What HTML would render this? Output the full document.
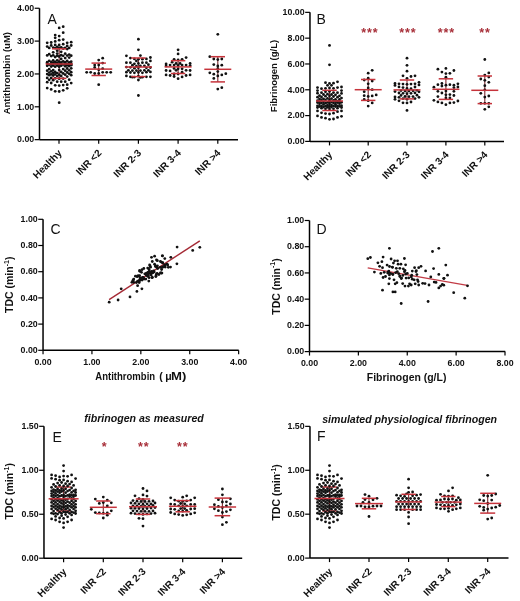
<!DOCTYPE html>
<html><head><meta charset="utf-8"><style>
html,body{margin:0;padding:0;background:#fff;}
svg{display:block;filter:blur(0.3px);}
text{font-family:'Liberation Sans', sans-serif;fill:#111;}
.tl{font-size:9.8px;font-weight:bold;}
.cl{font-size:10px;font-weight:bold;}
.al{font-size:9.5px;font-weight:bold;}
.al2{font-size:10.5px;font-weight:bold;}
.al3{font-size:10.5px;font-weight:bold;}
.pl{font-size:14px;}
.tt{font-size:10.6px;font-weight:bold;font-style:italic;}
.st{font-size:12.5px;font-weight:bold;fill:#a8303a;letter-spacing:0.9px;}
</style></head><body>
<svg width="520" height="601" viewBox="0 0 520 601">
<rect width="520" height="601" fill="#fff"/>
<line x1="39.5" y1="8.25" x2="39.5" y2="139.65" stroke="#000" stroke-width="1.5"/>
<line x1="34.7" y1="139.65" x2="39.5" y2="139.65" stroke="#000" stroke-width="1.2"/>
<text x="17.04" y="142.40" class="tl" textLength="17.16" lengthAdjust="spacingAndGlyphs">0.00</text>
<line x1="34.7" y1="106.80000000000001" x2="39.5" y2="106.80000000000001" stroke="#000" stroke-width="1.2"/>
<text x="17.04" y="109.55" class="tl" textLength="17.16" lengthAdjust="spacingAndGlyphs">1.00</text>
<line x1="34.7" y1="73.95" x2="39.5" y2="73.95" stroke="#000" stroke-width="1.2"/>
<text x="17.04" y="76.70" class="tl" textLength="17.16" lengthAdjust="spacingAndGlyphs">2.00</text>
<line x1="34.7" y1="41.099999999999994" x2="39.5" y2="41.099999999999994" stroke="#000" stroke-width="1.2"/>
<text x="17.04" y="43.85" class="tl" textLength="17.16" lengthAdjust="spacingAndGlyphs">3.00</text>
<line x1="34.7" y1="8.25" x2="39.5" y2="8.25" stroke="#000" stroke-width="1.2"/>
<text x="17.04" y="11.00" class="tl" textLength="17.16" lengthAdjust="spacingAndGlyphs">4.00</text>
<line x1="39.5" y1="139.65" x2="238" y2="139.65" stroke="#000" stroke-width="1.5"/>
<line x1="59" y1="139.65" x2="59" y2="143.65" stroke="#000" stroke-width="1.2"/>
<text x="62.50" y="153.65" text-anchor="end" class="cl" transform="rotate(-45 62.50 153.65)">Healthy</text>
<line x1="98.7" y1="139.65" x2="98.7" y2="143.65" stroke="#000" stroke-width="1.2"/>
<text x="102.20" y="153.65" text-anchor="end" class="cl" transform="rotate(-45 102.20 153.65)">INR &lt;2</text>
<line x1="138.4" y1="139.65" x2="138.4" y2="143.65" stroke="#000" stroke-width="1.2"/>
<text x="141.90" y="153.65" text-anchor="end" class="cl" transform="rotate(-45 141.90 153.65)">INR 2-3</text>
<line x1="178.1" y1="139.65" x2="178.1" y2="143.65" stroke="#000" stroke-width="1.2"/>
<text x="181.60" y="153.65" text-anchor="end" class="cl" transform="rotate(-45 181.60 153.65)">INR 3-4</text>
<line x1="217.8" y1="139.65" x2="217.8" y2="143.65" stroke="#000" stroke-width="1.2"/>
<text x="221.30" y="153.65" text-anchor="end" class="cl" transform="rotate(-45 221.30 153.65)">INR &gt;4</text>
<text x="10.5" y="73.2" text-anchor="middle" class="al" transform="rotate(-90 10.5 73.2)">Antithrombin (uM)</text>
<text x="47.5" y="24" class="pl">A</text>
<line x1="309.97" y1="12.35" x2="309.97" y2="141.4" stroke="#000" stroke-width="1.5"/>
<line x1="305.17" y1="141.4" x2="309.97" y2="141.4" stroke="#000" stroke-width="1.2"/>
<text x="287.51" y="144.15" class="tl" textLength="17.16" lengthAdjust="spacingAndGlyphs">0.00</text>
<line x1="305.17" y1="115.59" x2="309.97" y2="115.59" stroke="#000" stroke-width="1.2"/>
<text x="287.51" y="118.34" class="tl" textLength="17.16" lengthAdjust="spacingAndGlyphs">2.00</text>
<line x1="305.17" y1="89.78" x2="309.97" y2="89.78" stroke="#000" stroke-width="1.2"/>
<text x="287.51" y="92.53" class="tl" textLength="17.16" lengthAdjust="spacingAndGlyphs">4.00</text>
<line x1="305.17" y1="63.97" x2="309.97" y2="63.97" stroke="#000" stroke-width="1.2"/>
<text x="287.51" y="66.72" class="tl" textLength="17.16" lengthAdjust="spacingAndGlyphs">6.00</text>
<line x1="305.17" y1="38.16" x2="309.97" y2="38.16" stroke="#000" stroke-width="1.2"/>
<text x="287.51" y="40.91" class="tl" textLength="17.16" lengthAdjust="spacingAndGlyphs">8.00</text>
<line x1="305.17" y1="12.349999999999994" x2="309.97" y2="12.349999999999994" stroke="#000" stroke-width="1.2"/>
<text x="282.60" y="15.10" class="tl" textLength="22.07" lengthAdjust="spacingAndGlyphs">10.00</text>
<line x1="309.97" y1="141.4" x2="504" y2="141.4" stroke="#000" stroke-width="1.5"/>
<line x1="329.5" y1="141.4" x2="329.5" y2="145.4" stroke="#000" stroke-width="1.2"/>
<text x="333.00" y="155.40" text-anchor="end" class="cl" transform="rotate(-45 333.00 155.40)">Healthy</text>
<line x1="368.2" y1="141.4" x2="368.2" y2="145.4" stroke="#000" stroke-width="1.2"/>
<text x="371.70" y="155.40" text-anchor="end" class="cl" transform="rotate(-45 371.70 155.40)">INR &lt;2</text>
<line x1="407.0" y1="141.4" x2="407.0" y2="145.4" stroke="#000" stroke-width="1.2"/>
<text x="410.50" y="155.40" text-anchor="end" class="cl" transform="rotate(-45 410.50 155.40)">INR 2-3</text>
<line x1="445.9" y1="141.4" x2="445.9" y2="145.4" stroke="#000" stroke-width="1.2"/>
<text x="449.40" y="155.40" text-anchor="end" class="cl" transform="rotate(-45 449.40 155.40)">INR 3-4</text>
<line x1="484.8" y1="141.4" x2="484.8" y2="145.4" stroke="#000" stroke-width="1.2"/>
<text x="488.30" y="155.40" text-anchor="end" class="cl" transform="rotate(-45 488.30 155.40)">INR &gt;4</text>
<text x="276.5" y="76" text-anchor="middle" class="al" transform="rotate(-90 276.5 76)">Fibrinogen (g/L)</text>
<text x="316.5" y="24" class="pl">B</text>
<line x1="43.04" y1="219.3" x2="43.04" y2="350.3" stroke="#000" stroke-width="1.5"/>
<line x1="38.24" y1="350.3" x2="43.04" y2="350.3" stroke="#000" stroke-width="1.2"/>
<text x="20.58" y="353.05" class="tl" textLength="17.16" lengthAdjust="spacingAndGlyphs">0.00</text>
<line x1="38.24" y1="324.1" x2="43.04" y2="324.1" stroke="#000" stroke-width="1.2"/>
<text x="20.58" y="326.85" class="tl" textLength="17.16" lengthAdjust="spacingAndGlyphs">0.20</text>
<line x1="38.24" y1="297.90000000000003" x2="43.04" y2="297.90000000000003" stroke="#000" stroke-width="1.2"/>
<text x="20.58" y="300.65" class="tl" textLength="17.16" lengthAdjust="spacingAndGlyphs">0.40</text>
<line x1="38.24" y1="271.70000000000005" x2="43.04" y2="271.70000000000005" stroke="#000" stroke-width="1.2"/>
<text x="20.58" y="274.45" class="tl" textLength="17.16" lengthAdjust="spacingAndGlyphs">0.60</text>
<line x1="38.24" y1="245.5" x2="43.04" y2="245.5" stroke="#000" stroke-width="1.2"/>
<text x="20.58" y="248.25" class="tl" textLength="17.16" lengthAdjust="spacingAndGlyphs">0.80</text>
<line x1="38.24" y1="219.3" x2="43.04" y2="219.3" stroke="#000" stroke-width="1.2"/>
<text x="20.58" y="222.05" class="tl" textLength="17.16" lengthAdjust="spacingAndGlyphs">1.00</text>
<line x1="43.04" y1="350.3" x2="238.7" y2="350.3" stroke="#000" stroke-width="1.5"/>
<line x1="43.04" y1="350.3" x2="43.04" y2="354.3" stroke="#000" stroke-width="1.2"/>
<text x="34.46" y="364.50" class="tl" textLength="17.16" lengthAdjust="spacingAndGlyphs">0.00</text>
<line x1="91.94" y1="350.3" x2="91.94" y2="354.3" stroke="#000" stroke-width="1.2"/>
<text x="83.36" y="364.50" class="tl" textLength="17.16" lengthAdjust="spacingAndGlyphs">1.00</text>
<line x1="140.84" y1="350.3" x2="140.84" y2="354.3" stroke="#000" stroke-width="1.2"/>
<text x="132.26" y="364.50" class="tl" textLength="17.16" lengthAdjust="spacingAndGlyphs">2.00</text>
<line x1="189.73999999999998" y1="350.3" x2="189.73999999999998" y2="354.3" stroke="#000" stroke-width="1.2"/>
<text x="181.16" y="364.50" class="tl" textLength="17.16" lengthAdjust="spacingAndGlyphs">3.00</text>
<line x1="238.64" y1="350.3" x2="238.64" y2="354.3" stroke="#000" stroke-width="1.2"/>
<text x="230.06" y="364.50" class="tl" textLength="17.16" lengthAdjust="spacingAndGlyphs">4.00</text>
<text x="13.3" y="284.8" text-anchor="middle" class="al3" transform="rotate(-90 13.3 284.8)">TDC (min<tspan dy="-4.3" font-size="7">-1</tspan><tspan dy="4.3">)</tspan></text>
<text x="95.3" y="380.2" class="al2" textLength="59.8" lengthAdjust="spacingAndGlyphs">Antithrombin</text>
<text x="159.2" y="380.2" class="al2">(</text>
<text x="165.2" y="380.2" class="al2" font-weight="normal">&#956;</text>
<text x="171.0" y="380.2" class="al2" textLength="15.3" lengthAdjust="spacingAndGlyphs">M)</text>
<text x="50.5" y="234" class="pl">C</text>
<line x1="309.5" y1="220.5" x2="309.5" y2="351.6" stroke="#000" stroke-width="1.5"/>
<line x1="304.7" y1="351.6" x2="309.5" y2="351.6" stroke="#000" stroke-width="1.2"/>
<text x="287.04" y="354.35" class="tl" textLength="17.16" lengthAdjust="spacingAndGlyphs">0.00</text>
<line x1="304.7" y1="325.38" x2="309.5" y2="325.38" stroke="#000" stroke-width="1.2"/>
<text x="287.04" y="328.13" class="tl" textLength="17.16" lengthAdjust="spacingAndGlyphs">0.20</text>
<line x1="304.7" y1="299.16" x2="309.5" y2="299.16" stroke="#000" stroke-width="1.2"/>
<text x="287.04" y="301.91" class="tl" textLength="17.16" lengthAdjust="spacingAndGlyphs">0.40</text>
<line x1="304.7" y1="272.94" x2="309.5" y2="272.94" stroke="#000" stroke-width="1.2"/>
<text x="287.04" y="275.69" class="tl" textLength="17.16" lengthAdjust="spacingAndGlyphs">0.60</text>
<line x1="304.7" y1="246.72" x2="309.5" y2="246.72" stroke="#000" stroke-width="1.2"/>
<text x="287.04" y="249.47" class="tl" textLength="17.16" lengthAdjust="spacingAndGlyphs">0.80</text>
<line x1="304.7" y1="220.5" x2="309.5" y2="220.5" stroke="#000" stroke-width="1.2"/>
<text x="287.04" y="223.25" class="tl" textLength="17.16" lengthAdjust="spacingAndGlyphs">1.00</text>
<line x1="309.5" y1="351.6" x2="505.2" y2="351.6" stroke="#000" stroke-width="1.5"/>
<line x1="309.5" y1="351.6" x2="309.5" y2="355.6" stroke="#000" stroke-width="1.2"/>
<text x="300.92" y="365.80" class="tl" textLength="17.16" lengthAdjust="spacingAndGlyphs">0.00</text>
<line x1="358.375" y1="351.6" x2="358.375" y2="355.6" stroke="#000" stroke-width="1.2"/>
<text x="349.79" y="365.80" class="tl" textLength="17.16" lengthAdjust="spacingAndGlyphs">2.00</text>
<line x1="407.25" y1="351.6" x2="407.25" y2="355.6" stroke="#000" stroke-width="1.2"/>
<text x="398.67" y="365.80" class="tl" textLength="17.16" lengthAdjust="spacingAndGlyphs">4.00</text>
<line x1="456.125" y1="351.6" x2="456.125" y2="355.6" stroke="#000" stroke-width="1.2"/>
<text x="447.54" y="365.80" class="tl" textLength="17.16" lengthAdjust="spacingAndGlyphs">6.00</text>
<line x1="505.0" y1="351.6" x2="505.0" y2="355.6" stroke="#000" stroke-width="1.2"/>
<text x="496.42" y="365.80" class="tl" textLength="17.16" lengthAdjust="spacingAndGlyphs">8.00</text>
<text x="279.7" y="286.5" text-anchor="middle" class="al3" transform="rotate(-90 279.7 286.5)">TDC (min<tspan dy="-4.3" font-size="7">-1</tspan><tspan dy="4.3">)</tspan></text>
<text x="366.8" y="380.5" class="al2" textLength="79.6" lengthAdjust="spacingAndGlyphs">Fibrinogen (g/L)</text>
<text x="316.5" y="234" class="pl">D</text>
<line x1="43.97" y1="426.3" x2="43.97" y2="558.2" stroke="#000" stroke-width="1.5"/>
<line x1="39.17" y1="558.2" x2="43.97" y2="558.2" stroke="#000" stroke-width="1.2"/>
<text x="21.51" y="560.95" class="tl" textLength="17.16" lengthAdjust="spacingAndGlyphs">0.00</text>
<line x1="39.17" y1="514.2333333333333" x2="43.97" y2="514.2333333333333" stroke="#000" stroke-width="1.2"/>
<text x="21.51" y="516.98" class="tl" textLength="17.16" lengthAdjust="spacingAndGlyphs">0.50</text>
<line x1="39.17" y1="470.2666666666667" x2="43.97" y2="470.2666666666667" stroke="#000" stroke-width="1.2"/>
<text x="21.51" y="473.02" class="tl" textLength="17.16" lengthAdjust="spacingAndGlyphs">1.00</text>
<line x1="39.17" y1="426.3" x2="43.97" y2="426.3" stroke="#000" stroke-width="1.2"/>
<text x="21.51" y="429.05" class="tl" textLength="17.16" lengthAdjust="spacingAndGlyphs">1.50</text>
<line x1="43.97" y1="558.2" x2="242.2" y2="558.2" stroke="#000" stroke-width="1.5"/>
<line x1="63.6" y1="558.2" x2="63.6" y2="562.2" stroke="#000" stroke-width="1.2"/>
<text x="67.10" y="572.20" text-anchor="end" class="cl" transform="rotate(-45 67.10 572.20)">Healthy</text>
<line x1="103.3" y1="558.2" x2="103.3" y2="562.2" stroke="#000" stroke-width="1.2"/>
<text x="106.80" y="572.20" text-anchor="end" class="cl" transform="rotate(-45 106.80 572.20)">INR &lt;2</text>
<line x1="143.0" y1="558.2" x2="143.0" y2="562.2" stroke="#000" stroke-width="1.2"/>
<text x="146.50" y="572.20" text-anchor="end" class="cl" transform="rotate(-45 146.50 572.20)">INR 2-3</text>
<line x1="182.7" y1="558.2" x2="182.7" y2="562.2" stroke="#000" stroke-width="1.2"/>
<text x="186.20" y="572.20" text-anchor="end" class="cl" transform="rotate(-45 186.20 572.20)">INR 3-4</text>
<line x1="222.4" y1="558.2" x2="222.4" y2="562.2" stroke="#000" stroke-width="1.2"/>
<text x="225.90" y="572.20" text-anchor="end" class="cl" transform="rotate(-45 225.90 572.20)">INR &gt;4</text>
<text x="13.3" y="491.3" text-anchor="middle" class="al3" transform="rotate(-90 13.3 491.3)">TDC (min<tspan dy="-4.3" font-size="7">-1</tspan><tspan dy="4.3">)</tspan></text>
<text x="52.5" y="442" class="pl">E</text>
<text x="144" y="422.0" text-anchor="middle" class="tt">fibrinogen as measured</text>
<line x1="309.97" y1="426.35" x2="309.97" y2="558.1" stroke="#000" stroke-width="1.5"/>
<line x1="305.17" y1="558.1" x2="309.97" y2="558.1" stroke="#000" stroke-width="1.2"/>
<text x="287.51" y="560.85" class="tl" textLength="17.16" lengthAdjust="spacingAndGlyphs">0.00</text>
<line x1="305.17" y1="514.1833333333334" x2="309.97" y2="514.1833333333334" stroke="#000" stroke-width="1.2"/>
<text x="287.51" y="516.93" class="tl" textLength="17.16" lengthAdjust="spacingAndGlyphs">0.50</text>
<line x1="305.17" y1="470.2666666666667" x2="309.97" y2="470.2666666666667" stroke="#000" stroke-width="1.2"/>
<text x="287.51" y="473.02" class="tl" textLength="17.16" lengthAdjust="spacingAndGlyphs">1.00</text>
<line x1="305.17" y1="426.35" x2="309.97" y2="426.35" stroke="#000" stroke-width="1.2"/>
<text x="287.51" y="429.10" class="tl" textLength="17.16" lengthAdjust="spacingAndGlyphs">1.50</text>
<line x1="309.97" y1="558.1" x2="508.5" y2="558.1" stroke="#000" stroke-width="1.5"/>
<line x1="329.5" y1="558.1" x2="329.5" y2="562.1" stroke="#000" stroke-width="1.2"/>
<text x="333.00" y="572.10" text-anchor="end" class="cl" transform="rotate(-45 333.00 572.10)">Healthy</text>
<line x1="369.0" y1="558.1" x2="369.0" y2="562.1" stroke="#000" stroke-width="1.2"/>
<text x="372.50" y="572.10" text-anchor="end" class="cl" transform="rotate(-45 372.50 572.10)">INR &lt;2</text>
<line x1="408.6" y1="558.1" x2="408.6" y2="562.1" stroke="#000" stroke-width="1.2"/>
<text x="412.10" y="572.10" text-anchor="end" class="cl" transform="rotate(-45 412.10 572.10)">INR 2-3</text>
<line x1="448.3" y1="558.1" x2="448.3" y2="562.1" stroke="#000" stroke-width="1.2"/>
<text x="451.80" y="572.10" text-anchor="end" class="cl" transform="rotate(-45 451.80 572.10)">INR 3-4</text>
<line x1="487.7" y1="558.1" x2="487.7" y2="562.1" stroke="#000" stroke-width="1.2"/>
<text x="491.20" y="572.10" text-anchor="end" class="cl" transform="rotate(-45 491.20 572.10)">INR &gt;4</text>
<text x="280.4" y="492.4" text-anchor="middle" class="al3" transform="rotate(-90 280.4 492.4)">TDC (min<tspan dy="-4.3" font-size="7">-1</tspan><tspan dy="4.3">)</tspan></text>
<text x="317" y="441" class="pl">F</text>
<text x="409.6" y="423.3" text-anchor="middle" class="tt">simulated physiological fibrinogen</text>
<line x1="59.2" y1="48.8" x2="59.2" y2="78.4" stroke="#7a2a30" stroke-width="1.1"/>
<g fill="#111">
<circle cx="59.2" cy="27.9" r="1.4"/>
<circle cx="63.2" cy="26.7" r="1.4"/>
<circle cx="63.2" cy="32.7" r="1.4"/>
<circle cx="55.2" cy="35.1" r="1.4"/>
<circle cx="55.2" cy="37.8" r="1.4"/>
<circle cx="59.2" cy="36.1" r="1.4"/>
<circle cx="63.2" cy="39.6" r="1.4"/>
<circle cx="55.2" cy="41.4" r="1.4"/>
<circle cx="59.2" cy="40.2" r="1.4"/>
<circle cx="47.2" cy="42.8" r="1.4"/>
<circle cx="51.2" cy="42.5" r="1.4"/>
<circle cx="51.2" cy="45.5" r="1.4"/>
<circle cx="55.2" cy="44.9" r="1.4"/>
<circle cx="59.2" cy="45.0" r="1.4"/>
<circle cx="63.2" cy="44.2" r="1.4"/>
<circle cx="67.2" cy="42.8" r="1.4"/>
<circle cx="67.2" cy="45.9" r="1.4"/>
<circle cx="71.2" cy="42.2" r="1.4"/>
<circle cx="71.2" cy="45.5" r="1.4"/>
<circle cx="47.2" cy="82.2" r="1.4"/>
<circle cx="51.2" cy="83.0" r="1.4"/>
<circle cx="57.2" cy="81.7" r="1.4"/>
<circle cx="61.2" cy="81.7" r="1.4"/>
<circle cx="65.2" cy="81.7" r="1.4"/>
<circle cx="71.2" cy="83.1" r="1.4"/>
<circle cx="55.2" cy="85.3" r="1.4"/>
<circle cx="59.2" cy="85.6" r="1.4"/>
<circle cx="63.2" cy="85.1" r="1.4"/>
<circle cx="67.2" cy="84.7" r="1.4"/>
<circle cx="47.2" cy="88.1" r="1.4"/>
<circle cx="51.2" cy="89.4" r="1.4"/>
<circle cx="67.2" cy="88.3" r="1.4"/>
<circle cx="55.2" cy="91.3" r="1.4"/>
<circle cx="59.2" cy="91.5" r="1.4"/>
<circle cx="63.2" cy="90.3" r="1.4"/>
<circle cx="59.2" cy="102.7" r="1.4"/>
<circle cx="47.2" cy="46.6" r="1.4"/>
<circle cx="57.2" cy="46.8" r="1.4"/>
<circle cx="61.2" cy="47.5" r="1.4"/>
<circle cx="53.2" cy="47.7" r="1.4"/>
<circle cx="53.2" cy="80.2" r="1.4"/>
<circle cx="65.2" cy="47.9" r="1.4"/>
<circle cx="69.2" cy="47.9" r="1.4"/>
<circle cx="49.2" cy="47.9" r="1.4"/>
<circle cx="59.2" cy="48.0" r="1.4"/>
<circle cx="55.2" cy="48.1" r="1.4"/>
<circle cx="49.2" cy="79.8" r="1.4"/>
<circle cx="69.2" cy="79.7" r="1.4"/>
<circle cx="63.2" cy="48.6" r="1.4"/>
<circle cx="67.2" cy="49.1" r="1.4"/>
<circle cx="59.2" cy="78.7" r="1.4"/>
<circle cx="63.2" cy="78.6" r="1.4"/>
<circle cx="55.2" cy="78.3" r="1.4"/>
<circle cx="51.2" cy="78.0" r="1.4"/>
<circle cx="47.2" cy="77.9" r="1.4"/>
<circle cx="57.2" cy="50.7" r="1.4"/>
<circle cx="67.2" cy="76.6" r="1.4"/>
<circle cx="61.2" cy="51.8" r="1.4"/>
<circle cx="57.2" cy="76.1" r="1.4"/>
<circle cx="61.2" cy="76.0" r="1.4"/>
<circle cx="53.2" cy="52.3" r="1.4"/>
<circle cx="53.2" cy="75.5" r="1.4"/>
<circle cx="49.2" cy="75.2" r="1.4"/>
<circle cx="71.2" cy="75.2" r="1.4"/>
<circle cx="65.2" cy="74.7" r="1.4"/>
<circle cx="59.2" cy="74.7" r="1.4"/>
<circle cx="55.2" cy="74.4" r="1.4"/>
<circle cx="57.2" cy="53.6" r="1.4"/>
<circle cx="51.2" cy="74.3" r="1.4"/>
<circle cx="65.2" cy="53.7" r="1.4"/>
<circle cx="47.2" cy="74.1" r="1.4"/>
<circle cx="49.2" cy="54.2" r="1.4"/>
<circle cx="69.2" cy="73.8" r="1.4"/>
<circle cx="63.2" cy="73.5" r="1.4"/>
<circle cx="69.2" cy="54.6" r="1.4"/>
<circle cx="57.2" cy="73.1" r="1.4"/>
<circle cx="53.2" cy="72.8" r="1.4"/>
<circle cx="61.2" cy="55.2" r="1.4"/>
<circle cx="53.2" cy="55.3" r="1.4"/>
<circle cx="49.2" cy="72.6" r="1.4"/>
<circle cx="47.2" cy="55.4" r="1.4"/>
<circle cx="67.2" cy="72.5" r="1.4"/>
<circle cx="67.2" cy="55.6" r="1.4"/>
<circle cx="71.2" cy="55.7" r="1.4"/>
<circle cx="57.2" cy="55.8" r="1.4"/>
<circle cx="63.2" cy="55.8" r="1.4"/>
<circle cx="71.2" cy="72.2" r="1.4"/>
<circle cx="61.2" cy="72.0" r="1.4"/>
<circle cx="55.2" cy="71.9" r="1.4"/>
<circle cx="51.2" cy="56.1" r="1.4"/>
<circle cx="59.2" cy="56.5" r="1.4"/>
<circle cx="51.2" cy="71.3" r="1.4"/>
<circle cx="55.2" cy="57.0" r="1.4"/>
<circle cx="47.2" cy="70.7" r="1.4"/>
<circle cx="65.2" cy="70.7" r="1.4"/>
<circle cx="69.2" cy="57.6" r="1.4"/>
<circle cx="69.2" cy="70.3" r="1.4"/>
<circle cx="59.2" cy="70.1" r="1.4"/>
<circle cx="53.2" cy="70.1" r="1.4"/>
<circle cx="65.2" cy="58.1" r="1.4"/>
<circle cx="49.2" cy="69.2" r="1.4"/>
<circle cx="63.2" cy="69.1" r="1.4"/>
<circle cx="61.2" cy="59.0" r="1.4"/>
<circle cx="67.2" cy="68.5" r="1.4"/>
<circle cx="71.2" cy="68.3" r="1.4"/>
<circle cx="57.2" cy="60.3" r="1.4"/>
<circle cx="53.2" cy="60.5" r="1.4"/>
<circle cx="67.2" cy="60.9" r="1.4"/>
<circle cx="49.2" cy="60.9" r="1.4"/>
<circle cx="59.2" cy="66.8" r="1.4"/>
<circle cx="55.2" cy="66.7" r="1.4"/>
<circle cx="51.2" cy="66.6" r="1.4"/>
<circle cx="63.2" cy="61.5" r="1.4"/>
<circle cx="65.2" cy="66.3" r="1.4"/>
<circle cx="71.2" cy="61.7" r="1.4"/>
<circle cx="59.2" cy="61.7" r="1.4"/>
<circle cx="55.2" cy="61.8" r="1.4"/>
<circle cx="69.2" cy="66.1" r="1.4"/>
<circle cx="51.2" cy="62.0" r="1.4"/>
<circle cx="47.2" cy="65.8" r="1.4"/>
<circle cx="47.2" cy="62.2" r="1.4"/>
<circle cx="65.2" cy="62.2" r="1.4"/>
<circle cx="61.2" cy="65.7" r="1.4"/>
<circle cx="69.2" cy="62.4" r="1.4"/>
<circle cx="57.2" cy="65.5" r="1.4"/>
<circle cx="61.2" cy="62.5" r="1.4"/>
<circle cx="53.2" cy="65.5" r="1.4"/>
<circle cx="67.2" cy="65.3" r="1.4"/>
<circle cx="71.2" cy="65.2" r="1.4"/>
<circle cx="57.2" cy="62.8" r="1.4"/>
<circle cx="53.2" cy="62.8" r="1.4"/>
<circle cx="49.2" cy="64.7" r="1.4"/>
<circle cx="63.2" cy="64.6" r="1.4"/>
<circle cx="59.2" cy="64.4" r="1.4"/>
<circle cx="55.2" cy="63.6" r="1.4"/>
<circle cx="51.2" cy="64.3" r="1.4"/>
<circle cx="47.2" cy="63.7" r="1.4"/>
<circle cx="65.2" cy="64.2" r="1.4"/>
<circle cx="69.2" cy="64.2" r="1.4"/>
<circle cx="61.2" cy="64.1" r="1.4"/>
<circle cx="67.2" cy="63.9" r="1.4"/>
<circle cx="71.2" cy="63.9" r="1.4"/>
</g>
<line x1="98.7" y1="63.1" x2="98.7" y2="75.5" stroke="#7a2a30" stroke-width="1.1"/>
<g fill="#111">
<circle cx="102.7" cy="58.2" r="1.4"/>
<circle cx="98.7" cy="60.1" r="1.4"/>
<circle cx="102.7" cy="63.1" r="1.4"/>
<circle cx="94.7" cy="65.1" r="1.4"/>
<circle cx="98.7" cy="65.1" r="1.4"/>
<circle cx="94.7" cy="67.4" r="1.4"/>
<circle cx="102.7" cy="68.6" r="1.4"/>
<circle cx="98.7" cy="69.8" r="1.4"/>
<circle cx="86.7" cy="72.3" r="1.4"/>
<circle cx="90.7" cy="72.3" r="1.4"/>
<circle cx="94.7" cy="73.5" r="1.4"/>
<circle cx="98.7" cy="73.5" r="1.4"/>
<circle cx="102.7" cy="72.3" r="1.4"/>
<circle cx="106.7" cy="72.3" r="1.4"/>
<circle cx="110.7" cy="72.3" r="1.4"/>
<circle cx="98.7" cy="84.7" r="1.4"/>
</g>
<line x1="138.4" y1="58" x2="138.4" y2="76.6" stroke="#7a2a30" stroke-width="1.1"/>
<g fill="#111">
<circle cx="138.4" cy="39.2" r="1.4"/>
<circle cx="138.4" cy="49.8" r="1.4"/>
<circle cx="126.4" cy="55.8" r="1.4"/>
<circle cx="140.4" cy="55.6" r="1.4"/>
<circle cx="150.4" cy="57.5" r="1.4"/>
<circle cx="130.4" cy="58.1" r="1.4"/>
<circle cx="134.4" cy="58.9" r="1.4"/>
<circle cx="138.4" cy="59.2" r="1.4"/>
<circle cx="142.4" cy="59.2" r="1.4"/>
<circle cx="146.4" cy="58.9" r="1.4"/>
<circle cx="150.4" cy="60.9" r="1.4"/>
<circle cx="136.4" cy="60.9" r="1.4"/>
<circle cx="126.4" cy="62.7" r="1.4"/>
<circle cx="130.4" cy="62.7" r="1.4"/>
<circle cx="134.4" cy="63.8" r="1.4"/>
<circle cx="132.4" cy="65.2" r="1.4"/>
<circle cx="142.4" cy="62.7" r="1.4"/>
<circle cx="146.4" cy="62.7" r="1.4"/>
<circle cx="148.4" cy="64.7" r="1.4"/>
<circle cx="138.4" cy="63.4" r="1.4"/>
<circle cx="126.4" cy="67.1" r="1.4"/>
<circle cx="130.4" cy="67.3" r="1.4"/>
<circle cx="134.4" cy="68.2" r="1.4"/>
<circle cx="136.4" cy="66.2" r="1.4"/>
<circle cx="138.4" cy="67.8" r="1.4"/>
<circle cx="140.4" cy="65.9" r="1.4"/>
<circle cx="144.4" cy="65.8" r="1.4"/>
<circle cx="146.4" cy="67.8" r="1.4"/>
<circle cx="150.4" cy="67.5" r="1.4"/>
<circle cx="126.4" cy="72.2" r="1.4"/>
<circle cx="128.4" cy="70.3" r="1.4"/>
<circle cx="130.4" cy="72.5" r="1.4"/>
<circle cx="132.4" cy="70.6" r="1.4"/>
<circle cx="134.4" cy="72.8" r="1.4"/>
<circle cx="136.4" cy="70.6" r="1.4"/>
<circle cx="138.4" cy="72.4" r="1.4"/>
<circle cx="140.4" cy="70.6" r="1.4"/>
<circle cx="142.4" cy="72.8" r="1.4"/>
<circle cx="144.4" cy="70.3" r="1.4"/>
<circle cx="146.4" cy="72.2" r="1.4"/>
<circle cx="148.4" cy="70.3" r="1.4"/>
<circle cx="150.4" cy="71.9" r="1.4"/>
<circle cx="126.4" cy="75.9" r="1.4"/>
<circle cx="130.4" cy="76.8" r="1.4"/>
<circle cx="132.4" cy="77.2" r="1.4"/>
<circle cx="134.4" cy="77.1" r="1.4"/>
<circle cx="138.4" cy="76.2" r="1.4"/>
<circle cx="140.4" cy="77.4" r="1.4"/>
<circle cx="142.4" cy="77.2" r="1.4"/>
<circle cx="146.4" cy="76.8" r="1.4"/>
<circle cx="150.4" cy="76.8" r="1.4"/>
<circle cx="138.4" cy="80.0" r="1.4"/>
<circle cx="138.4" cy="95.5" r="1.4"/>
</g>
<line x1="178.1" y1="60.7" x2="178.1" y2="73.5" stroke="#7a2a30" stroke-width="1.1"/>
<g fill="#111">
<circle cx="178.1" cy="49.8" r="1.4"/>
<circle cx="178.1" cy="53.9" r="1.4"/>
<circle cx="186.1" cy="57.6" r="1.4"/>
<circle cx="174.1" cy="59.3" r="1.4"/>
<circle cx="178.1" cy="59.9" r="1.4"/>
<circle cx="182.1" cy="59.3" r="1.4"/>
<circle cx="172.1" cy="62.2" r="1.4"/>
<circle cx="166.1" cy="63.9" r="1.4"/>
<circle cx="166.1" cy="65.9" r="1.4"/>
<circle cx="170.1" cy="65.1" r="1.4"/>
<circle cx="174.1" cy="65.1" r="1.4"/>
<circle cx="176.1" cy="63.5" r="1.4"/>
<circle cx="178.1" cy="65.4" r="1.4"/>
<circle cx="180.1" cy="63.5" r="1.4"/>
<circle cx="182.1" cy="65.1" r="1.4"/>
<circle cx="186.1" cy="65.1" r="1.4"/>
<circle cx="190.1" cy="63.4" r="1.4"/>
<circle cx="190.1" cy="65.6" r="1.4"/>
<circle cx="174.1" cy="68.4" r="1.4"/>
<circle cx="176.1" cy="70.3" r="1.4"/>
<circle cx="178.1" cy="68.8" r="1.4"/>
<circle cx="182.1" cy="68.8" r="1.4"/>
<circle cx="166.1" cy="70.5" r="1.4"/>
<circle cx="170.1" cy="70.9" r="1.4"/>
<circle cx="186.1" cy="70.3" r="1.4"/>
<circle cx="190.1" cy="70.5" r="1.4"/>
<circle cx="182.1" cy="72.2" r="1.4"/>
<circle cx="178.1" cy="74.0" r="1.4"/>
<circle cx="166.1" cy="74.9" r="1.4"/>
<circle cx="170.1" cy="75.5" r="1.4"/>
<circle cx="174.1" cy="74.0" r="1.4"/>
<circle cx="174.1" cy="76.5" r="1.4"/>
<circle cx="186.1" cy="75.5" r="1.4"/>
<circle cx="190.1" cy="74.9" r="1.4"/>
<circle cx="182.1" cy="76.9" r="1.4"/>
<circle cx="178.1" cy="78.7" r="1.4"/>
</g>
<line x1="217.8" y1="56.7" x2="217.8" y2="81.9" stroke="#7a2a30" stroke-width="1.1"/>
<g fill="#111">
<circle cx="217.8" cy="34.3" r="1.4"/>
<circle cx="209.8" cy="56.7" r="1.4"/>
<circle cx="213.8" cy="59.0" r="1.4"/>
<circle cx="217.8" cy="59.6" r="1.4"/>
<circle cx="221.8" cy="59.0" r="1.4"/>
<circle cx="213.8" cy="64.6" r="1.4"/>
<circle cx="217.8" cy="66.0" r="1.4"/>
<circle cx="221.8" cy="65.2" r="1.4"/>
<circle cx="217.8" cy="68.7" r="1.4"/>
<circle cx="209.8" cy="72.8" r="1.4"/>
<circle cx="213.8" cy="74.2" r="1.4"/>
<circle cx="217.8" cy="71.6" r="1.4"/>
<circle cx="217.8" cy="75.9" r="1.4"/>
<circle cx="221.8" cy="74.9" r="1.4"/>
<circle cx="225.8" cy="73.7" r="1.4"/>
<circle cx="213.8" cy="78.4" r="1.4"/>
<circle cx="217.8" cy="89.1" r="1.4"/>
<circle cx="221.8" cy="87.7" r="1.4"/>
</g>
<line x1="329.5" y1="90.3" x2="329.5" y2="110.5" stroke="#7a2a30" stroke-width="1.1"/>
<g fill="#111">
<circle cx="329.5" cy="45.4" r="1.4"/>
<circle cx="329.5" cy="64.8" r="1.4"/>
<circle cx="325.5" cy="82.7" r="1.4"/>
<circle cx="327.5" cy="85.3" r="1.4"/>
<circle cx="329.5" cy="83.4" r="1.4"/>
<circle cx="331.5" cy="85.3" r="1.4"/>
<circle cx="333.5" cy="83.2" r="1.4"/>
<circle cx="337.5" cy="81.8" r="1.4"/>
<circle cx="317.5" cy="87.6" r="1.4"/>
<circle cx="317.5" cy="90.6" r="1.4"/>
<circle cx="321.5" cy="88.7" r="1.4"/>
<circle cx="325.5" cy="88.3" r="1.4"/>
<circle cx="329.5" cy="88.0" r="1.4"/>
<circle cx="333.5" cy="88.3" r="1.4"/>
<circle cx="337.5" cy="87.6" r="1.4"/>
<circle cx="341.5" cy="87.0" r="1.4"/>
<circle cx="341.5" cy="90.6" r="1.4"/>
<circle cx="317.5" cy="110.9" r="1.4"/>
<circle cx="321.5" cy="112.8" r="1.4"/>
<circle cx="325.5" cy="113.6" r="1.4"/>
<circle cx="329.5" cy="114.0" r="1.4"/>
<circle cx="333.5" cy="113.2" r="1.4"/>
<circle cx="337.5" cy="111.7" r="1.4"/>
<circle cx="341.5" cy="110.9" r="1.4"/>
<circle cx="317.5" cy="115.9" r="1.4"/>
<circle cx="321.5" cy="117.4" r="1.4"/>
<circle cx="325.5" cy="118.2" r="1.4"/>
<circle cx="329.5" cy="119.3" r="1.4"/>
<circle cx="333.5" cy="119.0" r="1.4"/>
<circle cx="337.5" cy="117.4" r="1.4"/>
<circle cx="341.5" cy="116.3" r="1.4"/>
<circle cx="329.5" cy="91.4" r="1.4"/>
<circle cx="325.5" cy="91.8" r="1.4"/>
<circle cx="333.5" cy="92.6" r="1.4"/>
<circle cx="321.5" cy="92.7" r="1.4"/>
<circle cx="337.5" cy="92.7" r="1.4"/>
<circle cx="329.5" cy="108.9" r="1.4"/>
<circle cx="325.5" cy="108.8" r="1.4"/>
<circle cx="317.5" cy="93.2" r="1.4"/>
<circle cx="333.5" cy="108.8" r="1.4"/>
<circle cx="341.5" cy="93.4" r="1.4"/>
<circle cx="321.5" cy="108.2" r="1.4"/>
<circle cx="337.5" cy="108.2" r="1.4"/>
<circle cx="327.5" cy="94.2" r="1.4"/>
<circle cx="317.5" cy="107.6" r="1.4"/>
<circle cx="341.5" cy="107.5" r="1.4"/>
<circle cx="331.5" cy="94.5" r="1.4"/>
<circle cx="323.5" cy="94.5" r="1.4"/>
<circle cx="327.5" cy="107.3" r="1.4"/>
<circle cx="335.5" cy="94.8" r="1.4"/>
<circle cx="331.5" cy="107.0" r="1.4"/>
<circle cx="323.5" cy="107.0" r="1.4"/>
<circle cx="335.5" cy="106.5" r="1.4"/>
<circle cx="319.5" cy="106.5" r="1.4"/>
<circle cx="339.5" cy="106.3" r="1.4"/>
<circle cx="319.5" cy="95.7" r="1.4"/>
<circle cx="329.5" cy="106.3" r="1.4"/>
<circle cx="339.5" cy="95.8" r="1.4"/>
<circle cx="325.5" cy="106.2" r="1.4"/>
<circle cx="333.5" cy="106.1" r="1.4"/>
<circle cx="321.5" cy="106.1" r="1.4"/>
<circle cx="329.5" cy="96.1" r="1.4"/>
<circle cx="325.5" cy="96.2" r="1.4"/>
<circle cx="337.5" cy="105.8" r="1.4"/>
<circle cx="317.5" cy="105.8" r="1.4"/>
<circle cx="341.5" cy="105.7" r="1.4"/>
<circle cx="333.5" cy="96.5" r="1.4"/>
<circle cx="327.5" cy="105.2" r="1.4"/>
<circle cx="331.5" cy="105.1" r="1.4"/>
<circle cx="321.5" cy="97.0" r="1.4"/>
<circle cx="317.5" cy="97.2" r="1.4"/>
<circle cx="337.5" cy="97.2" r="1.4"/>
<circle cx="323.5" cy="104.4" r="1.4"/>
<circle cx="335.5" cy="104.2" r="1.4"/>
<circle cx="341.5" cy="98.1" r="1.4"/>
<circle cx="319.5" cy="103.8" r="1.4"/>
<circle cx="339.5" cy="103.7" r="1.4"/>
<circle cx="329.5" cy="103.7" r="1.4"/>
<circle cx="327.5" cy="98.4" r="1.4"/>
<circle cx="331.5" cy="98.6" r="1.4"/>
<circle cx="323.5" cy="98.8" r="1.4"/>
<circle cx="325.5" cy="103.2" r="1.4"/>
<circle cx="333.5" cy="103.0" r="1.4"/>
<circle cx="321.5" cy="103.0" r="1.4"/>
<circle cx="319.5" cy="99.0" r="1.4"/>
<circle cx="335.5" cy="99.4" r="1.4"/>
<circle cx="317.5" cy="102.5" r="1.4"/>
<circle cx="337.5" cy="102.5" r="1.4"/>
<circle cx="339.5" cy="99.5" r="1.4"/>
<circle cx="341.5" cy="102.3" r="1.4"/>
<circle cx="327.5" cy="102.3" r="1.4"/>
<circle cx="329.5" cy="99.9" r="1.4"/>
<circle cx="325.5" cy="100.0" r="1.4"/>
<circle cx="331.5" cy="102.0" r="1.4"/>
<circle cx="321.5" cy="100.0" r="1.4"/>
<circle cx="323.5" cy="101.8" r="1.4"/>
<circle cx="335.5" cy="101.7" r="1.4"/>
<circle cx="319.5" cy="101.7" r="1.4"/>
<circle cx="339.5" cy="101.5" r="1.4"/>
<circle cx="333.5" cy="100.5" r="1.4"/>
<circle cx="329.5" cy="101.5" r="1.4"/>
<circle cx="317.5" cy="100.7" r="1.4"/>
<circle cx="337.5" cy="101.1" r="1.4"/>
</g>
<line x1="368.2" y1="79.5" x2="368.2" y2="100.4" stroke="#7a2a30" stroke-width="1.1"/>
<g fill="#111">
<circle cx="372.2" cy="70.3" r="1.4"/>
<circle cx="368.2" cy="73.2" r="1.4"/>
<circle cx="368.2" cy="78.2" r="1.4"/>
<circle cx="364.2" cy="80.0" r="1.4"/>
<circle cx="372.2" cy="81.0" r="1.4"/>
<circle cx="368.2" cy="83.8" r="1.4"/>
<circle cx="368.2" cy="88.0" r="1.4"/>
<circle cx="364.2" cy="91.7" r="1.4"/>
<circle cx="372.2" cy="89.7" r="1.4"/>
<circle cx="364.2" cy="95.7" r="1.4"/>
<circle cx="368.2" cy="96.4" r="1.4"/>
<circle cx="372.2" cy="95.9" r="1.4"/>
<circle cx="376.2" cy="94.9" r="1.4"/>
<circle cx="364.2" cy="99.4" r="1.4"/>
<circle cx="368.2" cy="100.7" r="1.4"/>
<circle cx="372.2" cy="102.9" r="1.4"/>
<circle cx="368.2" cy="106.1" r="1.4"/>
</g>
<line x1="407.0" y1="80" x2="407.0" y2="98.9" stroke="#7a2a30" stroke-width="1.1"/>
<g fill="#111">
<circle cx="407.0" cy="58.2" r="1.4"/>
<circle cx="407.0" cy="65.3" r="1.4"/>
<circle cx="407.0" cy="71.2" r="1.4"/>
<circle cx="403.0" cy="75.8" r="1.4"/>
<circle cx="411.0" cy="76.5" r="1.4"/>
<circle cx="415.0" cy="75.8" r="1.4"/>
<circle cx="407.0" cy="78.3" r="1.4"/>
<circle cx="395.0" cy="83.5" r="1.4"/>
<circle cx="395.0" cy="85.4" r="1.4"/>
<circle cx="399.0" cy="83.8" r="1.4"/>
<circle cx="403.0" cy="84.1" r="1.4"/>
<circle cx="407.0" cy="84.3" r="1.4"/>
<circle cx="411.0" cy="84.1" r="1.4"/>
<circle cx="415.0" cy="83.8" r="1.4"/>
<circle cx="419.0" cy="82.3" r="1.4"/>
<circle cx="419.0" cy="84.9" r="1.4"/>
<circle cx="399.0" cy="86.9" r="1.4"/>
<circle cx="403.0" cy="87.6" r="1.4"/>
<circle cx="407.0" cy="88.5" r="1.4"/>
<circle cx="411.0" cy="88.7" r="1.4"/>
<circle cx="415.0" cy="87.0" r="1.4"/>
<circle cx="395.0" cy="91.6" r="1.4"/>
<circle cx="399.0" cy="93.0" r="1.4"/>
<circle cx="401.0" cy="90.6" r="1.4"/>
<circle cx="403.0" cy="93.3" r="1.4"/>
<circle cx="405.0" cy="91.1" r="1.4"/>
<circle cx="407.0" cy="93.7" r="1.4"/>
<circle cx="409.0" cy="91.0" r="1.4"/>
<circle cx="411.0" cy="93.3" r="1.4"/>
<circle cx="413.0" cy="90.8" r="1.4"/>
<circle cx="415.0" cy="92.9" r="1.4"/>
<circle cx="417.0" cy="90.3" r="1.4"/>
<circle cx="419.0" cy="91.8" r="1.4"/>
<circle cx="401.0" cy="95.4" r="1.4"/>
<circle cx="417.0" cy="95.2" r="1.4"/>
<circle cx="395.0" cy="97.0" r="1.4"/>
<circle cx="395.0" cy="99.3" r="1.4"/>
<circle cx="399.0" cy="97.3" r="1.4"/>
<circle cx="403.0" cy="98.6" r="1.4"/>
<circle cx="405.0" cy="96.5" r="1.4"/>
<circle cx="407.0" cy="99.3" r="1.4"/>
<circle cx="409.0" cy="96.7" r="1.4"/>
<circle cx="413.0" cy="96.6" r="1.4"/>
<circle cx="415.0" cy="98.6" r="1.4"/>
<circle cx="419.0" cy="97.3" r="1.4"/>
<circle cx="399.0" cy="100.8" r="1.4"/>
<circle cx="403.0" cy="102.8" r="1.4"/>
<circle cx="407.0" cy="102.9" r="1.4"/>
<circle cx="411.0" cy="102.0" r="1.4"/>
<circle cx="407.0" cy="110.4" r="1.4"/>
</g>
<line x1="445.9" y1="78.8" x2="445.9" y2="99.4" stroke="#7a2a30" stroke-width="1.1"/>
<g fill="#111">
<circle cx="437.9" cy="69.2" r="1.4"/>
<circle cx="445.9" cy="68.4" r="1.4"/>
<circle cx="453.9" cy="70.5" r="1.4"/>
<circle cx="441.9" cy="72.1" r="1.4"/>
<circle cx="445.9" cy="73.6" r="1.4"/>
<circle cx="449.9" cy="73.3" r="1.4"/>
<circle cx="445.9" cy="77.2" r="1.4"/>
<circle cx="433.9" cy="87.2" r="1.4"/>
<circle cx="437.9" cy="84.7" r="1.4"/>
<circle cx="441.9" cy="86.1" r="1.4"/>
<circle cx="441.9" cy="83.5" r="1.4"/>
<circle cx="445.9" cy="85.2" r="1.4"/>
<circle cx="449.9" cy="84.7" r="1.4"/>
<circle cx="453.9" cy="85.2" r="1.4"/>
<circle cx="453.9" cy="87.6" r="1.4"/>
<circle cx="457.9" cy="83.8" r="1.4"/>
<circle cx="457.9" cy="87.0" r="1.4"/>
<circle cx="437.9" cy="91.3" r="1.4"/>
<circle cx="441.9" cy="93.0" r="1.4"/>
<circle cx="445.9" cy="91.1" r="1.4"/>
<circle cx="453.9" cy="91.3" r="1.4"/>
<circle cx="437.9" cy="96.6" r="1.4"/>
<circle cx="445.9" cy="94.8" r="1.4"/>
<circle cx="449.9" cy="94.6" r="1.4"/>
<circle cx="453.9" cy="95.5" r="1.4"/>
<circle cx="445.9" cy="97.9" r="1.4"/>
<circle cx="449.9" cy="97.9" r="1.4"/>
<circle cx="433.9" cy="100.3" r="1.4"/>
<circle cx="437.9" cy="101.9" r="1.4"/>
<circle cx="441.9" cy="102.9" r="1.4"/>
<circle cx="445.9" cy="104.7" r="1.4"/>
<circle cx="449.9" cy="102.9" r="1.4"/>
<circle cx="453.9" cy="102.6" r="1.4"/>
<circle cx="457.9" cy="101.0" r="1.4"/>
</g>
<line x1="484.8" y1="76" x2="484.8" y2="103.6" stroke="#7a2a30" stroke-width="1.1"/>
<g fill="#111">
<circle cx="484.8" cy="59.5" r="1.4"/>
<circle cx="484.8" cy="75.1" r="1.4"/>
<circle cx="488.8" cy="72.9" r="1.4"/>
<circle cx="480.8" cy="79.0" r="1.4"/>
<circle cx="488.8" cy="77.1" r="1.4"/>
<circle cx="484.8" cy="80.3" r="1.4"/>
<circle cx="488.8" cy="82.3" r="1.4"/>
<circle cx="484.8" cy="85.7" r="1.4"/>
<circle cx="484.8" cy="89.8" r="1.4"/>
<circle cx="480.8" cy="93.3" r="1.4"/>
<circle cx="484.8" cy="97.1" r="1.4"/>
<circle cx="488.8" cy="96.0" r="1.4"/>
<circle cx="480.8" cy="103.3" r="1.4"/>
<circle cx="484.8" cy="103.3" r="1.4"/>
<circle cx="488.8" cy="103.3" r="1.4"/>
<circle cx="488.8" cy="106.8" r="1.4"/>
<circle cx="484.8" cy="109.3" r="1.4"/>
</g>
<text x="369.95" y="37.0" text-anchor="middle" class="st">***</text>
<text x="407.95" y="37.0" text-anchor="middle" class="st">***</text>
<text x="446.45" y="37.0" text-anchor="middle" class="st">***</text>
<text x="485.05" y="37.0" text-anchor="middle" class="st">**</text>
<line x1="109.1" y1="299.6" x2="199.8" y2="240.9" stroke="#a52a35" stroke-width="1.4"/>
<g fill="#111">
<circle cx="109.2" cy="302.2" r="1.4"/>
<circle cx="118.1" cy="300.0" r="1.4"/>
<circle cx="121.2" cy="288.8" r="1.4"/>
<circle cx="130.0" cy="296.9" r="1.4"/>
<circle cx="136.9" cy="291.4" r="1.4"/>
<circle cx="131.9" cy="282.3" r="1.4"/>
<circle cx="137.7" cy="275.8" r="1.4"/>
<circle cx="139.8" cy="271.3" r="1.4"/>
<circle cx="151.5" cy="257.3" r="1.4"/>
<circle cx="154.6" cy="256.2" r="1.4"/>
<circle cx="162.3" cy="255.8" r="1.4"/>
<circle cx="152.3" cy="261.5" r="1.4"/>
<circle cx="156.5" cy="260.0" r="1.4"/>
<circle cx="160.4" cy="261.5" r="1.4"/>
<circle cx="177.1" cy="247.1" r="1.4"/>
<circle cx="192.7" cy="250.4" r="1.4"/>
<circle cx="199.8" cy="247.3" r="1.4"/>
<circle cx="176.9" cy="263.8" r="1.4"/>
<circle cx="170.8" cy="257.3" r="1.4"/>
<circle cx="162.5" cy="255.8" r="1.4"/>
<circle cx="164.8" cy="258.6" r="1.4"/>
<circle cx="161.3" cy="262.1" r="1.4"/>
<circle cx="167.7" cy="265.0" r="1.4"/>
<circle cx="168.3" cy="267.3" r="1.4"/>
<circle cx="161.9" cy="273.1" r="1.4"/>
<circle cx="156.1" cy="276.0" r="1.4"/>
<circle cx="152.1" cy="277.7" r="1.4"/>
<circle cx="143.8" cy="268.5" r="1.4"/>
<circle cx="147.7" cy="268.1" r="1.4"/>
<circle cx="149.6" cy="265.0" r="1.4"/>
<circle cx="154.6" cy="264.2" r="1.4"/>
<circle cx="139.6" cy="270.4" r="1.4"/>
<circle cx="141.5" cy="272.3" r="1.4"/>
<circle cx="138.5" cy="275.8" r="1.4"/>
<circle cx="152.3" cy="277.3" r="1.4"/>
<circle cx="155.8" cy="276.5" r="1.4"/>
<circle cx="161.2" cy="273.0" r="1.4"/>
<circle cx="145.8" cy="279.1" r="1.4"/>
<circle cx="137.6" cy="285.7" r="1.4"/>
<circle cx="151.4" cy="271.4" r="1.4"/>
<circle cx="151.2" cy="273.3" r="1.4"/>
<circle cx="133.7" cy="282.3" r="1.4"/>
<circle cx="136.4" cy="282.5" r="1.4"/>
<circle cx="148.3" cy="275.2" r="1.4"/>
<circle cx="140.0" cy="277.9" r="1.4"/>
<circle cx="157.1" cy="273.3" r="1.4"/>
<circle cx="146.1" cy="274.0" r="1.4"/>
<circle cx="170.5" cy="267.1" r="1.4"/>
<circle cx="144.1" cy="279.1" r="1.4"/>
<circle cx="139.2" cy="282.6" r="1.4"/>
<circle cx="162.6" cy="267.2" r="1.4"/>
<circle cx="137.2" cy="276.7" r="1.4"/>
<circle cx="144.8" cy="273.8" r="1.4"/>
<circle cx="152.7" cy="272.6" r="1.4"/>
<circle cx="140.4" cy="279.8" r="1.4"/>
<circle cx="155.5" cy="266.6" r="1.4"/>
<circle cx="154.2" cy="271.9" r="1.4"/>
<circle cx="147.9" cy="272.4" r="1.4"/>
<circle cx="160.4" cy="272.8" r="1.4"/>
<circle cx="139.6" cy="275.7" r="1.4"/>
<circle cx="162.7" cy="262.8" r="1.4"/>
<circle cx="157.4" cy="265.8" r="1.4"/>
<circle cx="141.9" cy="288.8" r="1.4"/>
<circle cx="147.7" cy="274.7" r="1.4"/>
<circle cx="149.1" cy="271.5" r="1.4"/>
<circle cx="132.9" cy="281.0" r="1.4"/>
<circle cx="150.5" cy="267.2" r="1.4"/>
<circle cx="162.6" cy="262.7" r="1.4"/>
<circle cx="156.3" cy="274.5" r="1.4"/>
<circle cx="150.1" cy="266.0" r="1.4"/>
<circle cx="167.0" cy="264.1" r="1.4"/>
<circle cx="149.3" cy="272.9" r="1.4"/>
<circle cx="157.0" cy="267.4" r="1.4"/>
<circle cx="158.9" cy="274.5" r="1.4"/>
<circle cx="142.8" cy="277.5" r="1.4"/>
<circle cx="146.3" cy="275.1" r="1.4"/>
<circle cx="148.8" cy="273.2" r="1.4"/>
<circle cx="139.3" cy="281.0" r="1.4"/>
<circle cx="160.3" cy="267.4" r="1.4"/>
<circle cx="137.6" cy="281.2" r="1.4"/>
<circle cx="165.2" cy="267.1" r="1.4"/>
<circle cx="133.7" cy="279.1" r="1.4"/>
<circle cx="164.6" cy="265.2" r="1.4"/>
<circle cx="162.6" cy="267.0" r="1.4"/>
<circle cx="146.5" cy="273.1" r="1.4"/>
<circle cx="148.8" cy="281.1" r="1.4"/>
<circle cx="135.4" cy="276.2" r="1.4"/>
<circle cx="139.3" cy="280.4" r="1.4"/>
<circle cx="151.2" cy="275.1" r="1.4"/>
<circle cx="153.6" cy="270.8" r="1.4"/>
<circle cx="147.8" cy="274.9" r="1.4"/>
<circle cx="142.0" cy="269.7" r="1.4"/>
<circle cx="155.4" cy="265.8" r="1.4"/>
<circle cx="149.1" cy="269.5" r="1.4"/>
<circle cx="133.1" cy="280.2" r="1.4"/>
<circle cx="165.1" cy="264.8" r="1.4"/>
<circle cx="157.4" cy="260.7" r="1.4"/>
<circle cx="147.4" cy="273.8" r="1.4"/>
<circle cx="153.0" cy="272.0" r="1.4"/>
<circle cx="142.1" cy="280.1" r="1.4"/>
<circle cx="143.6" cy="278.1" r="1.4"/>
<circle cx="146.8" cy="275.2" r="1.4"/>
<circle cx="143.0" cy="277.7" r="1.4"/>
<circle cx="141.8" cy="278.0" r="1.4"/>
<circle cx="157.7" cy="268.6" r="1.4"/>
<circle cx="152.9" cy="272.6" r="1.4"/>
<circle cx="147.7" cy="276.3" r="1.4"/>
<circle cx="149.1" cy="277.7" r="1.4"/>
<circle cx="161.6" cy="269.5" r="1.4"/>
<circle cx="148.8" cy="272.7" r="1.4"/>
<circle cx="142.1" cy="278.4" r="1.4"/>
</g>
<line x1="367.7" y1="267.8" x2="467.3" y2="285.4" stroke="#c23b45" stroke-width="1.3"/>
<g fill="#111">
<circle cx="389.4" cy="248.3" r="1.4"/>
<circle cx="367.8" cy="258.7" r="1.4"/>
<circle cx="370.4" cy="257.5" r="1.4"/>
<circle cx="383.1" cy="257.1" r="1.4"/>
<circle cx="391.1" cy="259.0" r="1.4"/>
<circle cx="404.4" cy="258.5" r="1.4"/>
<circle cx="377.9" cy="262.8" r="1.4"/>
<circle cx="381.9" cy="261.7" r="1.4"/>
<circle cx="394.6" cy="260.8" r="1.4"/>
<circle cx="397.5" cy="260.8" r="1.4"/>
<circle cx="393.4" cy="263.1" r="1.4"/>
<circle cx="398.1" cy="264.2" r="1.4"/>
<circle cx="400.9" cy="264.2" r="1.4"/>
<circle cx="405.6" cy="264.8" r="1.4"/>
<circle cx="387.1" cy="265.1" r="1.4"/>
<circle cx="379.6" cy="266.3" r="1.4"/>
<circle cx="382.5" cy="267.7" r="1.4"/>
<circle cx="392.3" cy="267.1" r="1.4"/>
<circle cx="396.3" cy="268.3" r="1.4"/>
<circle cx="399.8" cy="268.3" r="1.4"/>
<circle cx="403.3" cy="268.8" r="1.4"/>
<circle cx="374.4" cy="272.1" r="1.4"/>
<circle cx="380.8" cy="273.4" r="1.4"/>
<circle cx="384.2" cy="272.3" r="1.4"/>
<circle cx="388.8" cy="271.1" r="1.4"/>
<circle cx="390.6" cy="273.4" r="1.4"/>
<circle cx="392.9" cy="274.6" r="1.4"/>
<circle cx="383.1" cy="277.5" r="1.4"/>
<circle cx="389.4" cy="278.6" r="1.4"/>
<circle cx="399.8" cy="275.8" r="1.4"/>
<circle cx="401.5" cy="278.1" r="1.4"/>
<circle cx="404.4" cy="271.7" r="1.4"/>
<circle cx="407.3" cy="273.4" r="1.4"/>
<circle cx="406.1" cy="278.1" r="1.4"/>
<circle cx="394.0" cy="279.8" r="1.4"/>
<circle cx="396.9" cy="282.7" r="1.4"/>
<circle cx="395.2" cy="283.8" r="1.4"/>
<circle cx="388.8" cy="283.8" r="1.4"/>
<circle cx="402.7" cy="283.6" r="1.4"/>
<circle cx="405.0" cy="286.1" r="1.4"/>
<circle cx="409.6" cy="283.8" r="1.4"/>
<circle cx="408.4" cy="286.1" r="1.4"/>
<circle cx="414.2" cy="279.8" r="1.4"/>
<circle cx="411.3" cy="276.9" r="1.4"/>
<circle cx="382.5" cy="290.2" r="1.4"/>
<circle cx="392.9" cy="291.9" r="1.4"/>
<circle cx="395.2" cy="291.9" r="1.4"/>
<circle cx="432.5" cy="251.5" r="1.4"/>
<circle cx="438.8" cy="248.3" r="1.4"/>
<circle cx="445.8" cy="265.1" r="1.4"/>
<circle cx="433.6" cy="268.6" r="1.4"/>
<circle cx="425.6" cy="270.9" r="1.4"/>
<circle cx="438.8" cy="274.4" r="1.4"/>
<circle cx="447.5" cy="275.2" r="1.4"/>
<circle cx="430.8" cy="276.9" r="1.4"/>
<circle cx="444.0" cy="278.3" r="1.4"/>
<circle cx="434.2" cy="282.1" r="1.4"/>
<circle cx="436.0" cy="282.4" r="1.4"/>
<circle cx="422.7" cy="283.3" r="1.4"/>
<circle cx="425.0" cy="283.6" r="1.4"/>
<circle cx="429.0" cy="285.0" r="1.4"/>
<circle cx="418.7" cy="285.0" r="1.4"/>
<circle cx="415.2" cy="283.8" r="1.4"/>
<circle cx="411.2" cy="285.0" r="1.4"/>
<circle cx="442.3" cy="284.4" r="1.4"/>
<circle cx="440.6" cy="286.1" r="1.4"/>
<circle cx="438.8" cy="287.9" r="1.4"/>
<circle cx="467.5" cy="285.8" r="1.4"/>
<circle cx="453.7" cy="292.7" r="1.4"/>
<circle cx="464.8" cy="298.2" r="1.4"/>
<circle cx="421.0" cy="266.3" r="1.4"/>
<circle cx="418.7" cy="267.7" r="1.4"/>
<circle cx="414.6" cy="267.7" r="1.4"/>
<circle cx="412.3" cy="271.1" r="1.4"/>
<circle cx="416.3" cy="270.6" r="1.4"/>
<circle cx="416.9" cy="274.6" r="1.4"/>
<circle cx="411.7" cy="275.2" r="1.4"/>
<circle cx="412.3" cy="279.2" r="1.4"/>
<circle cx="417.5" cy="279.8" r="1.4"/>
<circle cx="418.1" cy="281.5" r="1.4"/>
<circle cx="401.2" cy="303.5" r="1.4"/>
<circle cx="428.1" cy="301.5" r="1.4"/>
<circle cx="443.8" cy="278.5" r="1.4"/>
<circle cx="443.8" cy="285.2" r="1.4"/>
<circle cx="389.4" cy="274.9" r="1.4"/>
<circle cx="405.0" cy="270.4" r="1.4"/>
<circle cx="388.7" cy="272.7" r="1.4"/>
<circle cx="401.3" cy="278.5" r="1.4"/>
<circle cx="389.5" cy="266.5" r="1.4"/>
<circle cx="402.9" cy="275.4" r="1.4"/>
<circle cx="408.7" cy="277.9" r="1.4"/>
<circle cx="397.3" cy="271.6" r="1.4"/>
<circle cx="416.0" cy="271.6" r="1.4"/>
<circle cx="392.5" cy="267.3" r="1.4"/>
<circle cx="398.7" cy="273.7" r="1.4"/>
<circle cx="395.6" cy="272.7" r="1.4"/>
<circle cx="399.9" cy="276.5" r="1.4"/>
<circle cx="405.7" cy="274.0" r="1.4"/>
<circle cx="385.5" cy="276.5" r="1.4"/>
<circle cx="388.1" cy="272.1" r="1.4"/>
<circle cx="387.7" cy="273.0" r="1.4"/>
<circle cx="392.6" cy="274.1" r="1.4"/>
</g>
<g stroke="#c6333b" stroke-width="1.5" fill="none">
<line x1="56.4" y1="487" x2="70.8" y2="487"/>
<line x1="56.4" y1="511" x2="70.8" y2="511"/>
</g>
<line x1="63.6" y1="487" x2="63.6" y2="511" stroke="#7a2a30" stroke-width="1.1"/>
<g fill="#111">
<circle cx="63.6" cy="465.6" r="1.4"/>
<circle cx="63.6" cy="471.1" r="1.4"/>
<circle cx="51.6" cy="474.9" r="1.4"/>
<circle cx="55.6" cy="475.7" r="1.4"/>
<circle cx="59.6" cy="476.9" r="1.4"/>
<circle cx="63.6" cy="476.1" r="1.4"/>
<circle cx="67.6" cy="476.3" r="1.4"/>
<circle cx="71.6" cy="474.9" r="1.4"/>
<circle cx="51.6" cy="478.4" r="1.4"/>
<circle cx="55.6" cy="479.2" r="1.4"/>
<circle cx="75.6" cy="478.6" r="1.4"/>
<circle cx="51.6" cy="518.9" r="1.4"/>
<circle cx="55.6" cy="520.0" r="1.4"/>
<circle cx="59.6" cy="521.8" r="1.4"/>
<circle cx="63.6" cy="522.9" r="1.4"/>
<circle cx="67.6" cy="521.8" r="1.4"/>
<circle cx="71.6" cy="520.0" r="1.4"/>
<circle cx="63.6" cy="527.6" r="1.4"/>
<circle cx="63.6" cy="518.4" r="1.4"/>
<circle cx="63.6" cy="479.9" r="1.4"/>
<circle cx="59.6" cy="518.0" r="1.4"/>
<circle cx="59.6" cy="480.2" r="1.4"/>
<circle cx="67.6" cy="516.8" r="1.4"/>
<circle cx="67.6" cy="481.2" r="1.4"/>
<circle cx="55.6" cy="516.4" r="1.4"/>
<circle cx="71.6" cy="481.9" r="1.4"/>
<circle cx="61.6" cy="515.7" r="1.4"/>
<circle cx="61.6" cy="482.5" r="1.4"/>
<circle cx="71.6" cy="514.9" r="1.4"/>
<circle cx="57.6" cy="483.1" r="1.4"/>
<circle cx="65.6" cy="514.6" r="1.4"/>
<circle cx="65.6" cy="483.7" r="1.4"/>
<circle cx="57.6" cy="514.1" r="1.4"/>
<circle cx="69.6" cy="484.1" r="1.4"/>
<circle cx="53.6" cy="513.8" r="1.4"/>
<circle cx="53.6" cy="484.4" r="1.4"/>
<circle cx="75.6" cy="513.5" r="1.4"/>
<circle cx="69.6" cy="513.3" r="1.4"/>
<circle cx="61.6" cy="513.3" r="1.4"/>
<circle cx="55.6" cy="513.3" r="1.4"/>
<circle cx="51.6" cy="513.2" r="1.4"/>
<circle cx="59.6" cy="485.3" r="1.4"/>
<circle cx="73.6" cy="485.4" r="1.4"/>
<circle cx="73.6" cy="512.6" r="1.4"/>
<circle cx="65.6" cy="512.3" r="1.4"/>
<circle cx="59.6" cy="512.2" r="1.4"/>
<circle cx="63.6" cy="485.9" r="1.4"/>
<circle cx="67.6" cy="486.0" r="1.4"/>
<circle cx="71.6" cy="511.9" r="1.4"/>
<circle cx="67.6" cy="511.9" r="1.4"/>
<circle cx="63.6" cy="511.8" r="1.4"/>
<circle cx="55.6" cy="486.5" r="1.4"/>
<circle cx="53.6" cy="511.1" r="1.4"/>
<circle cx="75.6" cy="510.8" r="1.4"/>
<circle cx="51.6" cy="487.3" r="1.4"/>
<circle cx="71.6" cy="488.0" r="1.4"/>
<circle cx="57.6" cy="509.9" r="1.4"/>
<circle cx="69.6" cy="509.9" r="1.4"/>
<circle cx="61.6" cy="509.4" r="1.4"/>
<circle cx="61.6" cy="488.7" r="1.4"/>
<circle cx="65.6" cy="488.8" r="1.4"/>
<circle cx="65.6" cy="509.2" r="1.4"/>
<circle cx="57.6" cy="489.0" r="1.4"/>
<circle cx="51.6" cy="508.9" r="1.4"/>
<circle cx="73.6" cy="508.9" r="1.4"/>
<circle cx="55.6" cy="508.7" r="1.4"/>
<circle cx="53.6" cy="489.6" r="1.4"/>
<circle cx="59.6" cy="508.3" r="1.4"/>
<circle cx="75.6" cy="489.8" r="1.4"/>
<circle cx="67.6" cy="508.0" r="1.4"/>
<circle cx="69.6" cy="490.1" r="1.4"/>
<circle cx="63.6" cy="490.4" r="1.4"/>
<circle cx="59.6" cy="490.5" r="1.4"/>
<circle cx="55.6" cy="490.5" r="1.4"/>
<circle cx="63.6" cy="507.3" r="1.4"/>
<circle cx="71.6" cy="507.3" r="1.4"/>
<circle cx="75.6" cy="507.3" r="1.4"/>
<circle cx="51.6" cy="490.9" r="1.4"/>
<circle cx="73.6" cy="490.9" r="1.4"/>
<circle cx="53.6" cy="507.1" r="1.4"/>
<circle cx="57.6" cy="507.0" r="1.4"/>
<circle cx="67.6" cy="491.1" r="1.4"/>
<circle cx="61.6" cy="506.7" r="1.4"/>
<circle cx="61.6" cy="491.5" r="1.4"/>
<circle cx="65.6" cy="506.4" r="1.4"/>
<circle cx="57.6" cy="491.6" r="1.4"/>
<circle cx="69.6" cy="506.1" r="1.4"/>
<circle cx="73.6" cy="505.9" r="1.4"/>
<circle cx="51.6" cy="505.9" r="1.4"/>
<circle cx="53.6" cy="492.1" r="1.4"/>
<circle cx="55.6" cy="505.7" r="1.4"/>
<circle cx="59.6" cy="505.7" r="1.4"/>
<circle cx="71.6" cy="492.4" r="1.4"/>
<circle cx="75.6" cy="492.5" r="1.4"/>
<circle cx="67.6" cy="505.5" r="1.4"/>
<circle cx="65.6" cy="492.7" r="1.4"/>
<circle cx="59.6" cy="492.8" r="1.4"/>
<circle cx="63.6" cy="504.7" r="1.4"/>
<circle cx="55.6" cy="493.4" r="1.4"/>
<circle cx="71.6" cy="504.4" r="1.4"/>
<circle cx="51.6" cy="493.6" r="1.4"/>
<circle cx="75.6" cy="504.3" r="1.4"/>
<circle cx="53.6" cy="504.1" r="1.4"/>
<circle cx="57.6" cy="504.1" r="1.4"/>
<circle cx="69.6" cy="494.6" r="1.4"/>
<circle cx="61.6" cy="503.3" r="1.4"/>
<circle cx="73.6" cy="494.8" r="1.4"/>
<circle cx="63.6" cy="495.0" r="1.4"/>
<circle cx="57.6" cy="495.1" r="1.4"/>
<circle cx="65.6" cy="502.9" r="1.4"/>
<circle cx="53.6" cy="495.1" r="1.4"/>
<circle cx="69.6" cy="502.7" r="1.4"/>
<circle cx="67.6" cy="495.4" r="1.4"/>
<circle cx="73.6" cy="502.6" r="1.4"/>
<circle cx="71.6" cy="495.4" r="1.4"/>
<circle cx="75.6" cy="495.5" r="1.4"/>
<circle cx="61.6" cy="495.5" r="1.4"/>
<circle cx="51.6" cy="502.4" r="1.4"/>
<circle cx="55.6" cy="502.3" r="1.4"/>
<circle cx="59.6" cy="502.0" r="1.4"/>
<circle cx="55.6" cy="496.1" r="1.4"/>
<circle cx="51.6" cy="496.1" r="1.4"/>
<circle cx="65.6" cy="496.1" r="1.4"/>
<circle cx="59.6" cy="496.2" r="1.4"/>
<circle cx="63.6" cy="501.7" r="1.4"/>
<circle cx="67.6" cy="501.6" r="1.4"/>
<circle cx="69.6" cy="496.5" r="1.4"/>
<circle cx="73.6" cy="496.6" r="1.4"/>
<circle cx="63.6" cy="496.8" r="1.4"/>
<circle cx="71.6" cy="500.9" r="1.4"/>
<circle cx="75.6" cy="500.9" r="1.4"/>
<circle cx="53.6" cy="500.8" r="1.4"/>
<circle cx="57.6" cy="500.6" r="1.4"/>
<circle cx="61.6" cy="500.4" r="1.4"/>
<circle cx="53.6" cy="497.7" r="1.4"/>
<circle cx="57.6" cy="498.1" r="1.4"/>
<circle cx="65.6" cy="499.7" r="1.4"/>
<circle cx="71.6" cy="498.4" r="1.4"/>
<circle cx="51.6" cy="499.4" r="1.4"/>
<circle cx="55.6" cy="499.4" r="1.4"/>
<circle cx="67.6" cy="498.8" r="1.4"/>
<circle cx="59.6" cy="499.2" r="1.4"/>
<circle cx="63.6" cy="498.9" r="1.4"/>
<circle cx="73.6" cy="499.1" r="1.4"/>
</g>
<line x1="103.3" y1="501" x2="103.3" y2="513.7" stroke="#7a2a30" stroke-width="1.1"/>
<g fill="#111">
<circle cx="103.3" cy="497.1" r="1.4"/>
<circle cx="95.3" cy="499.1" r="1.4"/>
<circle cx="107.3" cy="500.1" r="1.4"/>
<circle cx="99.3" cy="503.4" r="1.4"/>
<circle cx="103.3" cy="502.5" r="1.4"/>
<circle cx="111.3" cy="502.8" r="1.4"/>
<circle cx="107.3" cy="506.0" r="1.4"/>
<circle cx="91.3" cy="509.3" r="1.4"/>
<circle cx="95.3" cy="512.6" r="1.4"/>
<circle cx="99.3" cy="512.9" r="1.4"/>
<circle cx="103.3" cy="513.3" r="1.4"/>
<circle cx="107.3" cy="512.9" r="1.4"/>
<circle cx="107.3" cy="515.2" r="1.4"/>
<circle cx="111.3" cy="510.8" r="1.4"/>
<circle cx="103.3" cy="518.0" r="1.4"/>
</g>
<line x1="143.0" y1="499" x2="143.0" y2="514.4" stroke="#7a2a30" stroke-width="1.1"/>
<g fill="#111">
<circle cx="143.0" cy="488.5" r="1.4"/>
<circle cx="147.0" cy="490.9" r="1.4"/>
<circle cx="135.0" cy="495.8" r="1.4"/>
<circle cx="143.0" cy="494.9" r="1.4"/>
<circle cx="147.0" cy="496.1" r="1.4"/>
<circle cx="139.0" cy="498.7" r="1.4"/>
<circle cx="143.0" cy="499.3" r="1.4"/>
<circle cx="131.0" cy="503.0" r="1.4"/>
<circle cx="133.0" cy="500.6" r="1.4"/>
<circle cx="135.0" cy="503.3" r="1.4"/>
<circle cx="137.0" cy="501.2" r="1.4"/>
<circle cx="139.0" cy="503.8" r="1.4"/>
<circle cx="141.0" cy="501.5" r="1.4"/>
<circle cx="143.0" cy="504.2" r="1.4"/>
<circle cx="145.0" cy="501.5" r="1.4"/>
<circle cx="147.0" cy="503.8" r="1.4"/>
<circle cx="149.0" cy="501.3" r="1.4"/>
<circle cx="151.0" cy="503.8" r="1.4"/>
<circle cx="153.0" cy="501.0" r="1.4"/>
<circle cx="155.0" cy="503.0" r="1.4"/>
<circle cx="133.0" cy="505.9" r="1.4"/>
<circle cx="131.0" cy="508.2" r="1.4"/>
<circle cx="135.0" cy="508.3" r="1.4"/>
<circle cx="139.0" cy="508.5" r="1.4"/>
<circle cx="141.0" cy="506.3" r="1.4"/>
<circle cx="143.0" cy="508.9" r="1.4"/>
<circle cx="145.0" cy="506.3" r="1.4"/>
<circle cx="147.0" cy="508.5" r="1.4"/>
<circle cx="151.0" cy="508.0" r="1.4"/>
<circle cx="155.0" cy="507.5" r="1.4"/>
<circle cx="153.0" cy="505.5" r="1.4"/>
<circle cx="137.0" cy="506.0" r="1.4"/>
<circle cx="149.0" cy="506.0" r="1.4"/>
<circle cx="133.0" cy="510.8" r="1.4"/>
<circle cx="137.0" cy="511.1" r="1.4"/>
<circle cx="141.0" cy="511.3" r="1.4"/>
<circle cx="145.0" cy="511.3" r="1.4"/>
<circle cx="149.0" cy="511.3" r="1.4"/>
<circle cx="153.0" cy="510.9" r="1.4"/>
<circle cx="131.0" cy="513.2" r="1.4"/>
<circle cx="135.0" cy="513.6" r="1.4"/>
<circle cx="139.0" cy="513.9" r="1.4"/>
<circle cx="143.0" cy="514.4" r="1.4"/>
<circle cx="147.0" cy="513.9" r="1.4"/>
<circle cx="151.0" cy="513.6" r="1.4"/>
<circle cx="155.0" cy="513.2" r="1.4"/>
<circle cx="139.0" cy="518.3" r="1.4"/>
<circle cx="143.0" cy="518.7" r="1.4"/>
<circle cx="143.0" cy="526.1" r="1.4"/>
</g>
<line x1="182.7" y1="500.6" x2="182.7" y2="511.8" stroke="#7a2a30" stroke-width="1.1"/>
<g fill="#111">
<circle cx="170.7" cy="497.8" r="1.4"/>
<circle cx="182.7" cy="497.2" r="1.4"/>
<circle cx="186.7" cy="495.8" r="1.4"/>
<circle cx="194.7" cy="497.8" r="1.4"/>
<circle cx="174.7" cy="500.1" r="1.4"/>
<circle cx="178.7" cy="501.2" r="1.4"/>
<circle cx="182.7" cy="501.2" r="1.4"/>
<circle cx="186.7" cy="500.9" r="1.4"/>
<circle cx="190.7" cy="500.1" r="1.4"/>
<circle cx="180.7" cy="503.5" r="1.4"/>
<circle cx="184.7" cy="503.8" r="1.4"/>
<circle cx="170.7" cy="504.1" r="1.4"/>
<circle cx="174.7" cy="504.4" r="1.4"/>
<circle cx="178.7" cy="505.8" r="1.4"/>
<circle cx="182.7" cy="506.4" r="1.4"/>
<circle cx="186.7" cy="505.8" r="1.4"/>
<circle cx="190.7" cy="504.4" r="1.4"/>
<circle cx="194.7" cy="504.4" r="1.4"/>
<circle cx="180.7" cy="508.6" r="1.4"/>
<circle cx="184.7" cy="508.6" r="1.4"/>
<circle cx="178.7" cy="511.0" r="1.4"/>
<circle cx="182.7" cy="511.2" r="1.4"/>
<circle cx="170.7" cy="509.0" r="1.4"/>
<circle cx="174.7" cy="509.3" r="1.4"/>
<circle cx="186.7" cy="510.3" r="1.4"/>
<circle cx="190.7" cy="509.0" r="1.4"/>
<circle cx="194.7" cy="508.7" r="1.4"/>
<circle cx="170.7" cy="512.5" r="1.4"/>
<circle cx="174.7" cy="513.9" r="1.4"/>
<circle cx="178.7" cy="514.6" r="1.4"/>
<circle cx="182.7" cy="515.4" r="1.4"/>
<circle cx="186.7" cy="514.8" r="1.4"/>
<circle cx="190.7" cy="513.9" r="1.4"/>
<circle cx="194.7" cy="512.8" r="1.4"/>
</g>
<line x1="222.4" y1="498.1" x2="222.4" y2="515.7" stroke="#7a2a30" stroke-width="1.1"/>
<g fill="#111">
<circle cx="222.4" cy="489.0" r="1.4"/>
<circle cx="222.4" cy="494.8" r="1.4"/>
<circle cx="218.4" cy="499.7" r="1.4"/>
<circle cx="230.4" cy="498.8" r="1.4"/>
<circle cx="222.4" cy="502.0" r="1.4"/>
<circle cx="226.4" cy="501.8" r="1.4"/>
<circle cx="214.4" cy="504.7" r="1.4"/>
<circle cx="218.4" cy="506.4" r="1.4"/>
<circle cx="226.4" cy="505.8" r="1.4"/>
<circle cx="230.4" cy="504.0" r="1.4"/>
<circle cx="222.4" cy="507.5" r="1.4"/>
<circle cx="214.4" cy="508.8" r="1.4"/>
<circle cx="218.4" cy="510.7" r="1.4"/>
<circle cx="222.4" cy="512.5" r="1.4"/>
<circle cx="226.4" cy="511.6" r="1.4"/>
<circle cx="230.4" cy="509.8" r="1.4"/>
<circle cx="222.4" cy="517.1" r="1.4"/>
<circle cx="222.4" cy="524.7" r="1.4"/>
<circle cx="226.4" cy="522.3" r="1.4"/>
</g>
<text x="104.65" y="451.2" text-anchor="middle" class="st">*</text>
<text x="143.75" y="451.2" text-anchor="middle" class="st">**</text>
<text x="182.85" y="451.2" text-anchor="middle" class="st">**</text>
<g stroke="#c6333b" stroke-width="1.5" fill="none">
<line x1="322.3" y1="487" x2="336.7" y2="487"/>
<line x1="322.3" y1="511" x2="336.7" y2="511"/>
</g>
<line x1="329.5" y1="487" x2="329.5" y2="511" stroke="#7a2a30" stroke-width="1.1"/>
<g fill="#111">
<circle cx="329.5" cy="465.6" r="1.4"/>
<circle cx="329.5" cy="471.1" r="1.4"/>
<circle cx="317.5" cy="474.9" r="1.4"/>
<circle cx="321.5" cy="475.7" r="1.4"/>
<circle cx="325.5" cy="476.9" r="1.4"/>
<circle cx="329.5" cy="476.1" r="1.4"/>
<circle cx="333.5" cy="476.3" r="1.4"/>
<circle cx="337.5" cy="474.9" r="1.4"/>
<circle cx="317.5" cy="478.4" r="1.4"/>
<circle cx="321.5" cy="479.2" r="1.4"/>
<circle cx="341.5" cy="478.6" r="1.4"/>
<circle cx="317.5" cy="518.9" r="1.4"/>
<circle cx="321.5" cy="520.0" r="1.4"/>
<circle cx="325.5" cy="521.8" r="1.4"/>
<circle cx="329.5" cy="522.9" r="1.4"/>
<circle cx="333.5" cy="521.8" r="1.4"/>
<circle cx="337.5" cy="520.0" r="1.4"/>
<circle cx="329.5" cy="527.6" r="1.4"/>
<circle cx="329.5" cy="518.4" r="1.4"/>
<circle cx="329.5" cy="479.9" r="1.4"/>
<circle cx="325.5" cy="518.0" r="1.4"/>
<circle cx="325.5" cy="480.2" r="1.4"/>
<circle cx="333.5" cy="516.8" r="1.4"/>
<circle cx="333.5" cy="481.2" r="1.4"/>
<circle cx="321.5" cy="516.4" r="1.4"/>
<circle cx="337.5" cy="481.9" r="1.4"/>
<circle cx="327.5" cy="515.7" r="1.4"/>
<circle cx="327.5" cy="482.5" r="1.4"/>
<circle cx="337.5" cy="514.9" r="1.4"/>
<circle cx="323.5" cy="483.1" r="1.4"/>
<circle cx="331.5" cy="514.6" r="1.4"/>
<circle cx="331.5" cy="483.7" r="1.4"/>
<circle cx="323.5" cy="514.1" r="1.4"/>
<circle cx="335.5" cy="484.1" r="1.4"/>
<circle cx="319.5" cy="513.8" r="1.4"/>
<circle cx="319.5" cy="484.4" r="1.4"/>
<circle cx="341.5" cy="513.5" r="1.4"/>
<circle cx="335.5" cy="513.3" r="1.4"/>
<circle cx="327.5" cy="513.3" r="1.4"/>
<circle cx="321.5" cy="513.3" r="1.4"/>
<circle cx="317.5" cy="513.2" r="1.4"/>
<circle cx="325.5" cy="485.3" r="1.4"/>
<circle cx="339.5" cy="485.4" r="1.4"/>
<circle cx="339.5" cy="512.6" r="1.4"/>
<circle cx="331.5" cy="512.3" r="1.4"/>
<circle cx="325.5" cy="512.2" r="1.4"/>
<circle cx="329.5" cy="485.9" r="1.4"/>
<circle cx="333.5" cy="486.0" r="1.4"/>
<circle cx="337.5" cy="511.9" r="1.4"/>
<circle cx="329.5" cy="511.9" r="1.4"/>
<circle cx="333.5" cy="511.8" r="1.4"/>
<circle cx="321.5" cy="486.5" r="1.4"/>
<circle cx="319.5" cy="511.1" r="1.4"/>
<circle cx="341.5" cy="510.8" r="1.4"/>
<circle cx="317.5" cy="487.3" r="1.4"/>
<circle cx="337.5" cy="488.0" r="1.4"/>
<circle cx="323.5" cy="509.9" r="1.4"/>
<circle cx="327.5" cy="509.9" r="1.4"/>
<circle cx="335.5" cy="509.4" r="1.4"/>
<circle cx="327.5" cy="488.7" r="1.4"/>
<circle cx="331.5" cy="488.8" r="1.4"/>
<circle cx="331.5" cy="509.2" r="1.4"/>
<circle cx="323.5" cy="489.0" r="1.4"/>
<circle cx="317.5" cy="508.9" r="1.4"/>
<circle cx="339.5" cy="508.9" r="1.4"/>
<circle cx="321.5" cy="508.7" r="1.4"/>
<circle cx="319.5" cy="489.6" r="1.4"/>
<circle cx="325.5" cy="508.3" r="1.4"/>
<circle cx="341.5" cy="489.8" r="1.4"/>
<circle cx="329.5" cy="508.0" r="1.4"/>
<circle cx="335.5" cy="490.1" r="1.4"/>
<circle cx="329.5" cy="490.4" r="1.4"/>
<circle cx="325.5" cy="490.5" r="1.4"/>
<circle cx="321.5" cy="490.5" r="1.4"/>
<circle cx="333.5" cy="507.3" r="1.4"/>
<circle cx="337.5" cy="507.3" r="1.4"/>
<circle cx="341.5" cy="507.3" r="1.4"/>
<circle cx="317.5" cy="490.9" r="1.4"/>
<circle cx="339.5" cy="490.9" r="1.4"/>
<circle cx="319.5" cy="507.1" r="1.4"/>
<circle cx="323.5" cy="507.0" r="1.4"/>
<circle cx="333.5" cy="491.1" r="1.4"/>
<circle cx="327.5" cy="506.7" r="1.4"/>
<circle cx="327.5" cy="491.5" r="1.4"/>
<circle cx="331.5" cy="506.4" r="1.4"/>
<circle cx="323.5" cy="491.6" r="1.4"/>
<circle cx="335.5" cy="506.1" r="1.4"/>
<circle cx="339.5" cy="505.9" r="1.4"/>
<circle cx="317.5" cy="505.9" r="1.4"/>
<circle cx="319.5" cy="492.1" r="1.4"/>
<circle cx="321.5" cy="505.7" r="1.4"/>
<circle cx="325.5" cy="505.7" r="1.4"/>
<circle cx="337.5" cy="492.4" r="1.4"/>
<circle cx="341.5" cy="492.5" r="1.4"/>
<circle cx="329.5" cy="505.5" r="1.4"/>
<circle cx="331.5" cy="492.7" r="1.4"/>
<circle cx="325.5" cy="492.8" r="1.4"/>
<circle cx="333.5" cy="504.7" r="1.4"/>
<circle cx="321.5" cy="493.4" r="1.4"/>
<circle cx="337.5" cy="504.4" r="1.4"/>
<circle cx="317.5" cy="493.6" r="1.4"/>
<circle cx="341.5" cy="504.3" r="1.4"/>
<circle cx="319.5" cy="504.1" r="1.4"/>
<circle cx="323.5" cy="504.1" r="1.4"/>
<circle cx="335.5" cy="494.6" r="1.4"/>
<circle cx="327.5" cy="503.3" r="1.4"/>
<circle cx="339.5" cy="494.8" r="1.4"/>
<circle cx="329.5" cy="495.0" r="1.4"/>
<circle cx="323.5" cy="495.1" r="1.4"/>
<circle cx="331.5" cy="502.9" r="1.4"/>
<circle cx="319.5" cy="495.1" r="1.4"/>
<circle cx="335.5" cy="502.7" r="1.4"/>
<circle cx="333.5" cy="495.4" r="1.4"/>
<circle cx="339.5" cy="502.6" r="1.4"/>
<circle cx="337.5" cy="495.4" r="1.4"/>
<circle cx="341.5" cy="495.5" r="1.4"/>
<circle cx="327.5" cy="495.5" r="1.4"/>
<circle cx="317.5" cy="502.4" r="1.4"/>
<circle cx="321.5" cy="502.3" r="1.4"/>
<circle cx="325.5" cy="502.0" r="1.4"/>
<circle cx="321.5" cy="496.1" r="1.4"/>
<circle cx="317.5" cy="496.1" r="1.4"/>
<circle cx="331.5" cy="496.1" r="1.4"/>
<circle cx="325.5" cy="496.2" r="1.4"/>
<circle cx="329.5" cy="501.7" r="1.4"/>
<circle cx="333.5" cy="501.6" r="1.4"/>
<circle cx="335.5" cy="496.5" r="1.4"/>
<circle cx="339.5" cy="496.6" r="1.4"/>
<circle cx="329.5" cy="496.8" r="1.4"/>
<circle cx="337.5" cy="500.9" r="1.4"/>
<circle cx="341.5" cy="500.9" r="1.4"/>
<circle cx="319.5" cy="500.8" r="1.4"/>
<circle cx="323.5" cy="500.6" r="1.4"/>
<circle cx="327.5" cy="500.4" r="1.4"/>
<circle cx="319.5" cy="497.7" r="1.4"/>
<circle cx="323.5" cy="498.1" r="1.4"/>
<circle cx="331.5" cy="499.7" r="1.4"/>
<circle cx="337.5" cy="498.4" r="1.4"/>
<circle cx="317.5" cy="499.4" r="1.4"/>
<circle cx="321.5" cy="499.4" r="1.4"/>
<circle cx="333.5" cy="498.8" r="1.4"/>
<circle cx="325.5" cy="499.2" r="1.4"/>
<circle cx="329.5" cy="498.9" r="1.4"/>
<circle cx="339.5" cy="499.1" r="1.4"/>
</g>
<line x1="369.0" y1="498.3" x2="369.0" y2="508.8" stroke="#7a2a30" stroke-width="1.1"/>
<g fill="#111">
<circle cx="365.0" cy="494.6" r="1.4"/>
<circle cx="369.0" cy="496.2" r="1.4"/>
<circle cx="365.0" cy="499.5" r="1.4"/>
<circle cx="373.0" cy="499.8" r="1.4"/>
<circle cx="377.0" cy="498.3" r="1.4"/>
<circle cx="363.0" cy="502.3" r="1.4"/>
<circle cx="369.0" cy="502.5" r="1.4"/>
<circle cx="357.0" cy="506.0" r="1.4"/>
<circle cx="361.0" cy="506.0" r="1.4"/>
<circle cx="365.0" cy="506.8" r="1.4"/>
<circle cx="369.0" cy="507.0" r="1.4"/>
<circle cx="373.0" cy="506.2" r="1.4"/>
<circle cx="377.0" cy="506.0" r="1.4"/>
<circle cx="381.0" cy="506.0" r="1.4"/>
<circle cx="369.0" cy="516.5" r="1.4"/>
</g>
<line x1="408.6" y1="494.3" x2="408.6" y2="509.5" stroke="#7a2a30" stroke-width="1.1"/>
<g fill="#111">
<circle cx="408.6" cy="479.2" r="1.4"/>
<circle cx="408.6" cy="487.8" r="1.4"/>
<circle cx="408.6" cy="492.3" r="1.4"/>
<circle cx="412.6" cy="492.0" r="1.4"/>
<circle cx="396.6" cy="495.2" r="1.4"/>
<circle cx="400.6" cy="495.8" r="1.4"/>
<circle cx="404.6" cy="496.3" r="1.4"/>
<circle cx="406.6" cy="493.8" r="1.4"/>
<circle cx="412.6" cy="495.8" r="1.4"/>
<circle cx="416.6" cy="495.2" r="1.4"/>
<circle cx="420.6" cy="494.6" r="1.4"/>
<circle cx="398.6" cy="498.5" r="1.4"/>
<circle cx="402.6" cy="498.5" r="1.4"/>
<circle cx="406.6" cy="498.5" r="1.4"/>
<circle cx="410.6" cy="498.5" r="1.4"/>
<circle cx="414.6" cy="498.5" r="1.4"/>
<circle cx="418.6" cy="498.5" r="1.4"/>
<circle cx="396.6" cy="501.3" r="1.4"/>
<circle cx="400.6" cy="501.3" r="1.4"/>
<circle cx="404.6" cy="501.3" r="1.4"/>
<circle cx="408.6" cy="501.3" r="1.4"/>
<circle cx="412.6" cy="501.3" r="1.4"/>
<circle cx="416.6" cy="501.3" r="1.4"/>
<circle cx="420.6" cy="501.3" r="1.4"/>
<circle cx="398.6" cy="504.1" r="1.4"/>
<circle cx="402.6" cy="504.1" r="1.4"/>
<circle cx="406.6" cy="504.1" r="1.4"/>
<circle cx="410.6" cy="504.1" r="1.4"/>
<circle cx="414.6" cy="504.1" r="1.4"/>
<circle cx="418.6" cy="504.1" r="1.4"/>
<circle cx="396.6" cy="506.7" r="1.4"/>
<circle cx="400.6" cy="506.7" r="1.4"/>
<circle cx="404.6" cy="506.7" r="1.4"/>
<circle cx="408.6" cy="506.7" r="1.4"/>
<circle cx="412.6" cy="506.7" r="1.4"/>
<circle cx="416.6" cy="506.7" r="1.4"/>
<circle cx="420.6" cy="506.7" r="1.4"/>
<circle cx="396.6" cy="509.7" r="1.4"/>
<circle cx="400.6" cy="509.7" r="1.4"/>
<circle cx="404.6" cy="509.7" r="1.4"/>
<circle cx="412.6" cy="509.7" r="1.4"/>
<circle cx="416.6" cy="509.7" r="1.4"/>
<circle cx="420.6" cy="509.7" r="1.4"/>
<circle cx="408.6" cy="512.4" r="1.4"/>
<circle cx="408.6" cy="517.0" r="1.4"/>
<circle cx="408.6" cy="523.7" r="1.4"/>
</g>
<line x1="448.3" y1="496.5" x2="448.3" y2="506.6" stroke="#7a2a30" stroke-width="1.1"/>
<g fill="#111">
<circle cx="452.6" cy="487.8" r="1.4"/>
<circle cx="448.5" cy="490.9" r="1.4"/>
<circle cx="440.5" cy="494.3" r="1.4"/>
<circle cx="444.5" cy="495.8" r="1.4"/>
<circle cx="448.5" cy="496.1" r="1.4"/>
<circle cx="452.6" cy="495.8" r="1.4"/>
<circle cx="458.4" cy="497.7" r="1.4"/>
<circle cx="436.5" cy="500.2" r="1.4"/>
<circle cx="440.5" cy="499.9" r="1.4"/>
<circle cx="444.5" cy="499.0" r="1.4"/>
<circle cx="448.5" cy="499.3" r="1.4"/>
<circle cx="452.5" cy="499.0" r="1.4"/>
<circle cx="456.3" cy="500.2" r="1.4"/>
<circle cx="460.3" cy="499.9" r="1.4"/>
<circle cx="442.5" cy="502.3" r="1.4"/>
<circle cx="446.5" cy="502.3" r="1.4"/>
<circle cx="450.5" cy="502.3" r="1.4"/>
<circle cx="454.5" cy="502.3" r="1.4"/>
<circle cx="436.5" cy="504.5" r="1.4"/>
<circle cx="440.5" cy="504.8" r="1.4"/>
<circle cx="444.5" cy="505.3" r="1.4"/>
<circle cx="448.5" cy="505.5" r="1.4"/>
<circle cx="452.5" cy="505.3" r="1.4"/>
<circle cx="456.3" cy="504.8" r="1.4"/>
<circle cx="460.3" cy="504.0" r="1.4"/>
<circle cx="436.5" cy="507.9" r="1.4"/>
<circle cx="440.5" cy="508.8" r="1.4"/>
<circle cx="444.5" cy="508.8" r="1.4"/>
<circle cx="448.5" cy="508.3" r="1.4"/>
<circle cx="452.6" cy="509.7" r="1.4"/>
<circle cx="456.3" cy="508.8" r="1.4"/>
<circle cx="460.3" cy="507.9" r="1.4"/>
<circle cx="448.5" cy="511.3" r="1.4"/>
</g>
<line x1="487.7" y1="493.3" x2="487.7" y2="513.1" stroke="#7a2a30" stroke-width="1.1"/>
<g fill="#111">
<circle cx="487.7" cy="475.3" r="1.4"/>
<circle cx="483.7" cy="495.5" r="1.4"/>
<circle cx="487.7" cy="496.1" r="1.4"/>
<circle cx="491.7" cy="495.5" r="1.4"/>
<circle cx="495.7" cy="494.0" r="1.4"/>
<circle cx="479.7" cy="499.8" r="1.4"/>
<circle cx="483.7" cy="500.7" r="1.4"/>
<circle cx="491.7" cy="500.1" r="1.4"/>
<circle cx="487.7" cy="503.5" r="1.4"/>
<circle cx="479.7" cy="506.3" r="1.4"/>
<circle cx="483.7" cy="507.4" r="1.4"/>
<circle cx="483.7" cy="510.2" r="1.4"/>
<circle cx="487.7" cy="509.1" r="1.4"/>
<circle cx="491.7" cy="508.0" r="1.4"/>
<circle cx="495.7" cy="507.2" r="1.4"/>
<circle cx="499.7" cy="505.5" r="1.4"/>
<circle cx="487.7" cy="519.1" r="1.4"/>
<circle cx="491.7" cy="518.0" r="1.4"/>
</g>
<g stroke="#c6333b" stroke-width="1.5" fill="none">
<line x1="52.0" y1="48.8" x2="66.4" y2="48.8"/>
<line x1="52.0" y1="78.4" x2="66.4" y2="78.4"/>
</g>
<line x1="45.7" y1="64" x2="72.7" y2="64" stroke="#c6333b" stroke-width="1.5"/>
<g stroke="#c6333b" stroke-width="1.5" fill="none">
<line x1="91.5" y1="63.1" x2="105.9" y2="63.1"/>
<line x1="91.5" y1="75.5" x2="105.9" y2="75.5"/>
</g>
<line x1="85.2" y1="69.1" x2="112.2" y2="69.1" stroke="#c6333b" stroke-width="1.5"/>
<g stroke="#c6333b" stroke-width="1.5" fill="none">
<line x1="131.2" y1="58" x2="145.6" y2="58"/>
<line x1="131.2" y1="76.6" x2="145.6" y2="76.6"/>
</g>
<line x1="124.9" y1="67" x2="151.9" y2="67" stroke="#c6333b" stroke-width="1.5"/>
<g stroke="#c6333b" stroke-width="1.5" fill="none">
<line x1="170.9" y1="60.7" x2="185.3" y2="60.7"/>
<line x1="170.9" y1="73.5" x2="185.3" y2="73.5"/>
</g>
<line x1="164.6" y1="66.9" x2="191.6" y2="66.9" stroke="#c6333b" stroke-width="1.5"/>
<g stroke="#c6333b" stroke-width="1.5" fill="none">
<line x1="210.6" y1="56.7" x2="225.0" y2="56.7"/>
<line x1="210.6" y1="81.9" x2="225.0" y2="81.9"/>
</g>
<line x1="204.3" y1="69.3" x2="231.3" y2="69.3" stroke="#c6333b" stroke-width="1.5"/>
<g stroke="#c6333b" stroke-width="1.5" fill="none">
<line x1="322.3" y1="90.3" x2="336.7" y2="90.3"/>
<line x1="322.3" y1="110.5" x2="336.7" y2="110.5"/>
</g>
<line x1="316.0" y1="101" x2="343.0" y2="101" stroke="#c6333b" stroke-width="1.5"/>
<g stroke="#c6333b" stroke-width="1.5" fill="none">
<line x1="361.0" y1="79.5" x2="375.4" y2="79.5"/>
<line x1="361.0" y1="100.4" x2="375.4" y2="100.4"/>
</g>
<line x1="354.7" y1="89.7" x2="381.7" y2="89.7" stroke="#c6333b" stroke-width="1.5"/>
<g stroke="#c6333b" stroke-width="1.5" fill="none">
<line x1="399.8" y1="80" x2="414.2" y2="80"/>
<line x1="399.8" y1="98.9" x2="414.2" y2="98.9"/>
</g>
<line x1="393.5" y1="89.9" x2="420.5" y2="89.9" stroke="#c6333b" stroke-width="1.5"/>
<g stroke="#c6333b" stroke-width="1.5" fill="none">
<line x1="438.7" y1="78.8" x2="453.1" y2="78.8"/>
<line x1="438.7" y1="99.4" x2="453.1" y2="99.4"/>
</g>
<line x1="432.4" y1="89.3" x2="459.4" y2="89.3" stroke="#c6333b" stroke-width="1.5"/>
<g stroke="#c6333b" stroke-width="1.5" fill="none">
<line x1="477.6" y1="76" x2="492.0" y2="76"/>
<line x1="477.6" y1="103.6" x2="492.0" y2="103.6"/>
</g>
<line x1="471.3" y1="90.3" x2="498.3" y2="90.3" stroke="#c6333b" stroke-width="1.5"/>
<line x1="48.6" y1="498.8" x2="78.6" y2="498.8" stroke="#c6333b" stroke-width="1.5"/>
<g stroke="#c6333b" stroke-width="1.5" fill="none">
<line x1="96.1" y1="501" x2="110.5" y2="501"/>
<line x1="96.1" y1="513.7" x2="110.5" y2="513.7"/>
</g>
<line x1="89.8" y1="507.3" x2="116.8" y2="507.3" stroke="#c6333b" stroke-width="1.5"/>
<g stroke="#c6333b" stroke-width="1.5" fill="none">
<line x1="135.8" y1="499" x2="150.2" y2="499"/>
<line x1="135.8" y1="514.4" x2="150.2" y2="514.4"/>
</g>
<line x1="129.0" y1="506.7" x2="157.0" y2="506.7" stroke="#c6333b" stroke-width="1.5"/>
<g stroke="#c6333b" stroke-width="1.5" fill="none">
<line x1="175.5" y1="500.6" x2="189.9" y2="500.6"/>
<line x1="175.5" y1="511.8" x2="189.9" y2="511.8"/>
</g>
<line x1="168.9" y1="506.3" x2="196.5" y2="506.3" stroke="#c6333b" stroke-width="1.5"/>
<g stroke="#c6333b" stroke-width="1.5" fill="none">
<line x1="214.6" y1="498.1" x2="230.2" y2="498.1"/>
<line x1="214.6" y1="515.7" x2="230.2" y2="515.7"/>
</g>
<line x1="208.7" y1="507" x2="236.1" y2="507" stroke="#c6333b" stroke-width="1.5"/>
<line x1="314.5" y1="498.5" x2="344.5" y2="498.5" stroke="#c6333b" stroke-width="1.5"/>
<g stroke="#c6333b" stroke-width="1.5" fill="none">
<line x1="361.8" y1="498.3" x2="376.2" y2="498.3"/>
<line x1="361.8" y1="508.8" x2="376.2" y2="508.8"/>
</g>
<line x1="355.0" y1="503.6" x2="383.0" y2="503.6" stroke="#c6333b" stroke-width="1.5"/>
<g stroke="#c6333b" stroke-width="1.5" fill="none">
<line x1="401.4" y1="494.3" x2="415.8" y2="494.3"/>
<line x1="401.4" y1="509.5" x2="415.8" y2="509.5"/>
</g>
<line x1="395.1" y1="501.9" x2="422.1" y2="501.9" stroke="#c6333b" stroke-width="1.5"/>
<g stroke="#c6333b" stroke-width="1.5" fill="none">
<line x1="441.1" y1="496.5" x2="455.5" y2="496.5"/>
<line x1="441.1" y1="506.6" x2="455.5" y2="506.6"/>
</g>
<line x1="434.6" y1="502.1" x2="462.0" y2="502.1" stroke="#c6333b" stroke-width="1.5"/>
<g stroke="#c6333b" stroke-width="1.5" fill="none">
<line x1="480.2" y1="493.3" x2="495.2" y2="493.3"/>
<line x1="480.2" y1="513.1" x2="495.2" y2="513.1"/>
</g>
<line x1="474.2" y1="503.4" x2="501.2" y2="503.4" stroke="#c6333b" stroke-width="1.5"/>
</svg></body></html>
